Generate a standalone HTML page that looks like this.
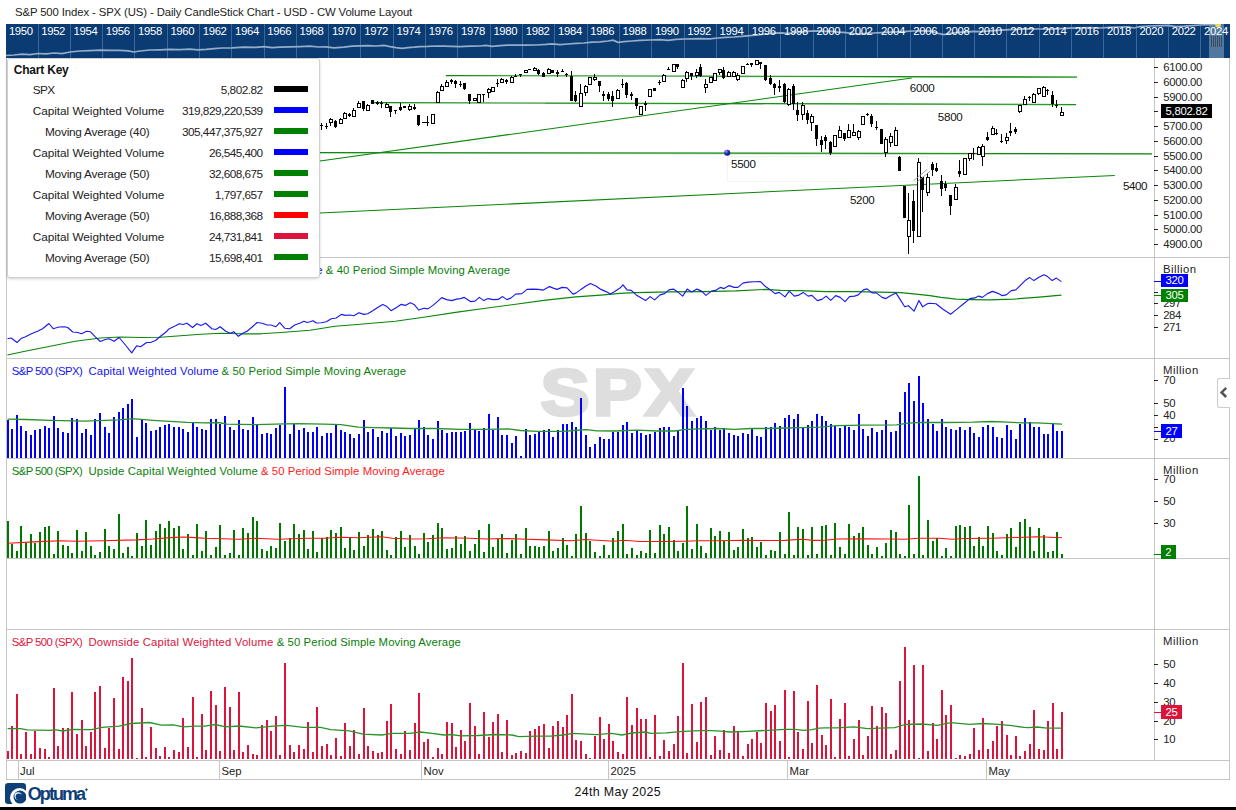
<!DOCTYPE html>
<html><head><meta charset="utf-8"><title>S&amp;P 500 Index - CW Volume Layout</title>
<style>
html,body{margin:0;padding:0;background:#fff;}
body{width:1236px;height:810px;position:relative;overflow:hidden;font-family:"Liberation Sans",sans-serif;}
.t{position:absolute;white-space:nowrap;line-height:16px;height:16px;font-family:"Liberation Sans",sans-serif;}
.box{position:absolute;color:#fff;text-align:center;line-height:14px;font-family:"Liberation Sans",sans-serif;white-space:nowrap;}
#legend{position:absolute;left:7px;top:58px;width:311px;height:218px;background:#fff;border:1px solid #d0d0d0;border-radius:3px;box-shadow:0 1px 3px rgba(0,0,0,0.18);font-size:11.8px;color:#222;}
#legend .lk{position:absolute;left:5.7px;top:3px;font-weight:bold;font-size:12px;line-height:16px;color:#111}
#legend .lr{position:absolute;left:0;width:311px;height:16px;line-height:16px;}
#legend .ll{position:absolute;white-space:nowrap}
#legend .lv{position:absolute;right:56.4px;white-space:nowrap}
#legend .ls{position:absolute;left:266px;top:4px;width:34px;height:6px}
</style></head><body>
<svg width="1236" height="810" viewBox="0 0 1236 810" style="position:absolute;left:0;top:0" shape-rendering="auto"><rect x="6" y="24" width="1224" height="34" fill="#0a3b73"/>
<rect x="1209" y="24" width="15" height="34" fill="#51799f"/>
<rect x="38" y="24" width="1" height="34" fill="#3f6795"/>
<rect x="70" y="24" width="1" height="34" fill="#3f6795"/>
<rect x="102" y="24" width="1" height="34" fill="#3f6795"/>
<rect x="134" y="24" width="1" height="34" fill="#3f6795"/>
<rect x="167" y="24" width="1" height="34" fill="#3f6795"/>
<rect x="199" y="24" width="1" height="34" fill="#3f6795"/>
<rect x="231" y="24" width="1" height="34" fill="#3f6795"/>
<rect x="264" y="24" width="1" height="34" fill="#3f6795"/>
<rect x="296" y="24" width="1" height="34" fill="#3f6795"/>
<rect x="328" y="24" width="1" height="34" fill="#3f6795"/>
<rect x="360" y="24" width="1" height="34" fill="#3f6795"/>
<rect x="393" y="24" width="1" height="34" fill="#3f6795"/>
<rect x="425" y="24" width="1" height="34" fill="#3f6795"/>
<rect x="457" y="24" width="1" height="34" fill="#3f6795"/>
<rect x="490" y="24" width="1" height="34" fill="#3f6795"/>
<rect x="522" y="24" width="1" height="34" fill="#3f6795"/>
<rect x="554" y="24" width="1" height="34" fill="#3f6795"/>
<rect x="587" y="24" width="1" height="34" fill="#3f6795"/>
<rect x="619" y="24" width="1" height="34" fill="#3f6795"/>
<rect x="651" y="24" width="1" height="34" fill="#3f6795"/>
<rect x="684" y="24" width="1" height="34" fill="#3f6795"/>
<rect x="716" y="24" width="1" height="34" fill="#3f6795"/>
<rect x="748" y="24" width="1" height="34" fill="#3f6795"/>
<rect x="780" y="24" width="1" height="34" fill="#3f6795"/>
<rect x="813" y="24" width="1" height="34" fill="#3f6795"/>
<rect x="845" y="24" width="1" height="34" fill="#3f6795"/>
<rect x="877" y="24" width="1" height="34" fill="#3f6795"/>
<rect x="910" y="24" width="1" height="34" fill="#3f6795"/>
<rect x="942" y="24" width="1" height="34" fill="#3f6795"/>
<rect x="974" y="24" width="1" height="34" fill="#3f6795"/>
<rect x="1006" y="24" width="1" height="34" fill="#3f6795"/>
<rect x="1039" y="24" width="1" height="34" fill="#3f6795"/>
<rect x="1071" y="24" width="1" height="34" fill="#3f6795"/>
<rect x="1103" y="24" width="1" height="34" fill="#3f6795"/>
<rect x="1136" y="24" width="1" height="34" fill="#3f6795"/>
<rect x="1168" y="24" width="1" height="34" fill="#3f6795"/>
<rect x="1200" y="24" width="1" height="34" fill="#3f6795"/>
<polyline fill="none" stroke="#95adc9" stroke-width="1.7" points="6,55.5 14,55 22,54.2 30,54.6 38,53.5 46,53.8 54,53 62,53.6 70,52 80,51 90,50.6 100,50.2 110,50.4 120,50.3 128,50.8 134,52 140,51 150,50 160,49.8 170,49.4 180,49.6 190,49.2 198,49.8 206,49.4 214,48.6 222,48 232,47.8 244,47.2 256,47.4 264,46.6 272,47.6 280,47.2 290,46.8 300,46.6 310,46.2 318,47 326,46.8 334,47.8 344,47.2 352,46.2 360,45.8 368,45.6 376,46 384,45.4 390,46.6 396,47.6 402,48.4 408,47.6 414,47.2 420,46.6 428,46.4 436,46 444,46.2 452,46.4 460,46.6 470,46.2 480,46 486,45.4 492,46.4 500,45.6 508,45.2 516,45 526,45.2 536,45 546,44.4 552,43.8 560,44.6 568,44 576,43.4 584,43 592,42.2 600,41.8 608,41 613,40.2 618,42.4 624,41.6 632,41 640,40.4 650,40 660,39.6 668,40.4 676,39.4 684,39 692,38.8 700,38.6 710,38.8 718,38 726,37.4 734,37 742,36.4 750,35.6 758,35 766,34 774,33.2 782,32.8 788,33.6 794,32.4 802,31.8 810,31.2 818,30.8 824,31.4 830,31.2 838,32.2 846,32.6 854,33.6 860,34.2 866,33.4 874,33 882,32.6 890,32.2 898,31.8 906,31.4 914,31 922,30.8 930,31.2 938,33.4 944,34.6 950,33.4 958,32.4 966,31.8 974,31.4 982,31.6 990,30.8 1000,30.2 1010,29.6 1020,29.2 1030,28.8 1040,29 1050,29.2 1060,28.6 1070,28.2 1080,27.8 1090,27.6 1100,28 1110,27.4 1120,27 1128,26.8 1134,28 1140,26.6 1150,26 1160,25.6 1168,25.4 1176,26.6 1184,26.2 1192,25.6 1200,25 1208,24.6 1218,24.2"/>
<rect x="1211" y="36" width="1" height="11" fill="#3c4a5c"/>
<rect x="1213" y="36" width="1" height="11" fill="#3c4a5c"/>
<rect x="1215" y="36" width="1" height="11" fill="#3c4a5c"/>
<rect x="1217" y="36" width="1" height="11" fill="#3c4a5c"/>
<rect x="1219" y="36" width="1" height="11" fill="#3c4a5c"/>
<rect x="1221" y="36" width="1" height="11" fill="#3c4a5c"/>
<circle cx="1218" cy="24.5" r="3" fill="#e0dc5a"/>
<rect x="1200" y="14" width="36" height="10" fill="#fff"/>
<rect x="6" y="58" width="1" height="721" fill="#c6c6c6"/>
<rect x="1229" y="58" width="1" height="721" fill="#c6c6c6"/>
<rect x="1154" y="58" width="1" height="702" fill="#c6c6c6"/>
<rect x="6" y="257" width="1224" height="1" fill="#c6c6c6"/>
<rect x="6" y="358" width="1224" height="1" fill="#c6c6c6"/>
<rect x="6" y="458" width="1224" height="1" fill="#c6c6c6"/>
<rect x="6" y="558" width="1224" height="1" fill="#c6c6c6"/>
<rect x="6" y="629" width="1224" height="1" fill="#c6c6c6"/>
<rect x="6" y="760" width="1224" height="1" fill="#c6c6c6"/>
<rect x="6" y="779" width="1224" height="1" fill="#c6c6c6"/>
<rect x="18" y="760" width="1" height="19" fill="#c6c6c6"/>
<rect x="219" y="760" width="1" height="19" fill="#c6c6c6"/>
<rect x="421" y="760" width="1" height="19" fill="#c6c6c6"/>
<rect x="608" y="760" width="1" height="19" fill="#c6c6c6"/>
<rect x="787" y="760" width="1" height="19" fill="#c6c6c6"/>
<rect x="986" y="760" width="1" height="19" fill="#c6c6c6"/>
<rect x="0" y="807" width="1236" height="3" fill="#000"/>
<g transform="translate(619.1 0) scale(1.13 1) translate(-619.1 0)"><text x="619.1" y="415.2" text-anchor="middle" font-family="Liberation Sans, sans-serif" font-weight="700" font-size="64.5" letter-spacing="3.2" fill="#dedede" stroke="#dedede" stroke-width="3.5" stroke-linejoin="miter">SPX</text></g>
<line x1="445.8" y1="75.6" x2="1077" y2="77.0" stroke="#0a860a" stroke-width="1.05" opacity="1"/>
<line x1="690" y1="76.3" x2="1077" y2="77.5" stroke="#2e9e2e" stroke-width="1.2" opacity="0.6"/>
<line x1="370.8" y1="102.6" x2="1076" y2="104.4" stroke="#0a860a" stroke-width="1.05" opacity="1"/>
<line x1="545" y1="103.3" x2="1076" y2="104.9" stroke="#2e9e2e" stroke-width="1.2" opacity="0.6"/>
<line x1="320" y1="161" x2="911.7" y2="78.1" stroke="#0a860a" stroke-width="1.05" opacity="1"/>
<line x1="320" y1="152.4" x2="1152" y2="153.8" stroke="#0a860a" stroke-width="1.05" opacity="1"/>
<line x1="320" y1="153.2" x2="1152" y2="154.4" stroke="#2e9e2e" stroke-width="1.0" opacity="0.5"/>
<line x1="320" y1="213" x2="1114.8" y2="175.4" stroke="#0a860a" stroke-width="1.05" opacity="1"/>
<rect x="727.5" y="156.5" width="200" height="25" fill="none" stroke="#f3f3f3" stroke-width="1"/>
<rect x="321" y="123" width="1" height="7" fill="#000"/>
<rect x="320" y="125" width="3" height="1" fill="#000"/>
<rect x="326" y="123" width="1" height="6" fill="#000"/>
<rect x="325" y="126" width="3" height="1" fill="#000"/>
<rect x="330" y="118" width="1" height="8" fill="#000"/>
<rect x="329.5" y="119.5" width="3" height="3" fill="#fff" stroke="#000" stroke-width="1"/>
<rect x="335" y="120" width="1" height="8" fill="#000"/>
<rect x="334" y="121" width="3" height="6" fill="#000"/>
<rect x="340" y="118" width="1" height="5" fill="#000"/>
<rect x="339.5" y="119.5" width="3" height="4" fill="#fff" stroke="#000" stroke-width="1"/>
<rect x="344" y="112" width="1" height="6" fill="#000"/>
<rect x="343.5" y="113.5" width="3" height="5" fill="#fff" stroke="#000" stroke-width="1"/>
<rect x="349" y="113" width="1" height="4" fill="#000"/>
<rect x="348" y="114" width="3" height="2" fill="#000"/>
<rect x="353" y="108" width="1" height="8" fill="#000"/>
<rect x="352.5" y="110.5" width="3" height="6" fill="#fff" stroke="#000" stroke-width="1"/>
<rect x="358" y="101" width="1" height="6" fill="#000"/>
<rect x="357.5" y="103.5" width="3" height="4" fill="#fff" stroke="#000" stroke-width="1"/>
<rect x="363" y="101" width="1" height="10" fill="#000"/>
<rect x="362" y="101" width="3" height="8" fill="#000"/>
<rect x="367" y="104" width="1" height="6" fill="#000"/>
<rect x="366.5" y="105.5" width="3" height="5" fill="#fff" stroke="#000" stroke-width="1"/>
<rect x="372" y="100" width="1" height="4" fill="#000"/>
<rect x="371" y="100" width="3" height="4" fill="#000"/>
<rect x="377" y="101" width="1" height="4" fill="#000"/>
<rect x="376" y="102" width="3" height="2" fill="#000"/>
<rect x="381" y="101" width="1" height="7" fill="#000"/>
<rect x="380" y="103" width="3" height="1" fill="#000"/>
<rect x="386" y="103" width="1" height="4" fill="#000"/>
<rect x="385.5" y="104.5" width="3" height="3" fill="#fff" stroke="#000" stroke-width="1"/>
<rect x="390" y="106" width="1" height="11" fill="#000"/>
<rect x="389" y="106" width="3" height="6" fill="#000"/>
<rect x="395" y="110" width="1" height="4" fill="#000"/>
<rect x="394" y="110" width="3" height="1" fill="#000"/>
<rect x="400" y="103" width="1" height="8" fill="#000"/>
<rect x="399" y="107" width="3" height="3" fill="#000"/>
<rect x="404" y="106" width="1" height="2" fill="#000"/>
<rect x="403" y="106" width="3" height="2" fill="#000"/>
<rect x="409" y="104" width="1" height="7" fill="#000"/>
<rect x="408.5" y="106.5" width="3" height="3" fill="#fff" stroke="#000" stroke-width="1"/>
<rect x="414" y="104" width="1" height="6" fill="#000"/>
<rect x="413" y="107" width="3" height="2" fill="#000"/>
<rect x="418" y="115" width="1" height="11" fill="#000"/>
<rect x="417" y="115" width="3" height="10" fill="#000"/>
<rect x="422" y="122" width="3" height="1" fill="#000"/>
<rect x="427" y="116" width="1" height="10" fill="#000"/>
<rect x="424" y="122" width="5" height="1" fill="#000"/>
<rect x="432" y="114" width="1" height="9" fill="#000"/>
<rect x="431.5" y="114.5" width="3" height="9" fill="#fff" stroke="#000" stroke-width="1"/>
<rect x="437" y="91" width="1" height="11" fill="#000"/>
<rect x="436.5" y="92.5" width="3" height="10" fill="#fff" stroke="#000" stroke-width="1"/>
<rect x="441" y="84" width="1" height="6" fill="#000"/>
<rect x="440.5" y="86.5" width="3" height="4" fill="#fff" stroke="#000" stroke-width="1"/>
<rect x="446" y="80" width="1" height="6" fill="#000"/>
<rect x="445.5" y="82.5" width="3" height="4" fill="#fff" stroke="#000" stroke-width="1"/>
<rect x="451" y="79" width="1" height="5" fill="#000"/>
<rect x="450" y="80" width="3" height="2" fill="#000"/>
<rect x="455" y="80" width="1" height="8" fill="#000"/>
<rect x="454" y="81" width="3" height="3" fill="#000"/>
<rect x="460" y="81" width="1" height="6" fill="#000"/>
<rect x="459" y="84" width="3" height="1" fill="#000"/>
<rect x="464" y="83" width="1" height="7" fill="#000"/>
<rect x="463" y="83" width="3" height="6" fill="#000"/>
<rect x="469" y="94" width="1" height="10" fill="#000"/>
<rect x="468" y="94" width="3" height="7" fill="#000"/>
<rect x="474" y="98" width="1" height="3" fill="#000"/>
<rect x="473.5" y="98.5" width="3" height="2" fill="#fff" stroke="#000" stroke-width="1"/>
<rect x="478" y="94" width="1" height="8" fill="#000"/>
<rect x="477.5" y="94.5" width="3" height="8" fill="#fff" stroke="#000" stroke-width="1"/>
<rect x="483" y="94" width="1" height="8" fill="#000"/>
<rect x="482" y="94" width="3" height="1" fill="#000"/>
<rect x="488" y="88" width="1" height="10" fill="#000"/>
<rect x="487.5" y="89.5" width="3" height="3" fill="#fff" stroke="#000" stroke-width="1"/>
<rect x="492" y="87" width="1" height="4" fill="#000"/>
<rect x="491.5" y="87.5" width="3" height="4" fill="#fff" stroke="#000" stroke-width="1"/>
<rect x="497" y="79" width="1" height="8" fill="#000"/>
<rect x="496" y="83" width="3" height="1" fill="#000"/>
<rect x="501" y="78" width="1" height="4" fill="#000"/>
<rect x="500.5" y="79.5" width="3" height="3" fill="#fff" stroke="#000" stroke-width="1"/>
<rect x="506" y="79" width="1" height="5" fill="#000"/>
<rect x="505" y="80" width="3" height="2" fill="#000"/>
<rect x="511" y="76" width="1" height="6" fill="#000"/>
<rect x="510.5" y="77.5" width="3" height="5" fill="#fff" stroke="#000" stroke-width="1"/>
<rect x="515" y="74" width="1" height="3" fill="#000"/>
<rect x="514" y="76" width="3" height="1" fill="#000"/>
<rect x="520" y="74" width="1" height="3" fill="#000"/>
<rect x="519" y="74" width="3" height="1" fill="#000"/>
<rect x="525" y="70" width="1" height="2" fill="#000"/>
<rect x="524.5" y="70.5" width="3" height="2" fill="#fff" stroke="#000" stroke-width="1"/>
<rect x="529" y="69" width="1" height="1" fill="#000"/>
<rect x="528" y="69" width="3" height="1" fill="#000"/>
<rect x="534" y="67" width="1" height="3" fill="#000"/>
<rect x="533.5" y="68.5" width="3" height="2" fill="#fff" stroke="#000" stroke-width="1"/>
<rect x="538" y="69" width="1" height="6" fill="#000"/>
<rect x="537" y="70" width="3" height="4" fill="#000"/>
<rect x="543" y="72" width="1" height="5" fill="#000"/>
<rect x="542" y="73" width="3" height="4" fill="#000"/>
<rect x="548" y="68" width="1" height="5" fill="#000"/>
<rect x="547.5" y="69.5" width="3" height="4" fill="#fff" stroke="#000" stroke-width="1"/>
<rect x="552" y="70" width="1" height="3" fill="#000"/>
<rect x="551" y="70" width="3" height="3" fill="#000"/>
<rect x="557" y="70" width="1" height="7" fill="#000"/>
<rect x="556" y="72" width="3" height="2" fill="#000"/>
<rect x="562" y="69" width="1" height="3" fill="#000"/>
<rect x="561" y="71" width="3" height="1" fill="#000"/>
<rect x="566" y="73" width="1" height="4" fill="#000"/>
<rect x="565" y="74" width="3" height="1" fill="#000"/>
<rect x="571" y="71" width="1" height="30" fill="#000"/>
<rect x="570" y="76" width="3" height="25" fill="#000"/>
<rect x="575" y="91" width="1" height="11" fill="#000"/>
<rect x="574" y="95" width="3" height="6" fill="#000"/>
<rect x="580" y="84" width="1" height="22" fill="#000"/>
<rect x="579.5" y="93.5" width="3" height="13" fill="#fff" stroke="#000" stroke-width="1"/>
<rect x="585" y="85" width="1" height="11" fill="#000"/>
<rect x="584.5" y="86.5" width="3" height="6" fill="#fff" stroke="#000" stroke-width="1"/>
<rect x="589" y="77" width="1" height="7" fill="#000"/>
<rect x="588.5" y="77.5" width="3" height="7" fill="#fff" stroke="#000" stroke-width="1"/>
<rect x="594" y="74" width="1" height="7" fill="#000"/>
<rect x="593.5" y="77.5" width="3" height="2" fill="#fff" stroke="#000" stroke-width="1"/>
<rect x="599" y="81" width="1" height="11" fill="#000"/>
<rect x="598" y="81" width="3" height="5" fill="#000"/>
<rect x="603" y="91" width="1" height="10" fill="#000"/>
<rect x="602" y="94" width="3" height="2" fill="#000"/>
<rect x="608" y="92" width="1" height="9" fill="#000"/>
<rect x="607" y="94" width="3" height="5" fill="#000"/>
<rect x="612" y="91" width="1" height="16" fill="#000"/>
<rect x="611" y="96" width="3" height="5" fill="#000"/>
<rect x="617" y="89" width="1" height="9" fill="#000"/>
<rect x="616.5" y="90.5" width="3" height="8" fill="#fff" stroke="#000" stroke-width="1"/>
<rect x="622" y="79" width="1" height="9" fill="#000"/>
<rect x="621" y="84" width="3" height="1" fill="#000"/>
<rect x="626" y="82" width="1" height="16" fill="#000"/>
<rect x="625" y="83" width="3" height="12" fill="#000"/>
<rect x="631" y="92" width="1" height="8" fill="#000"/>
<rect x="630" y="94" width="3" height="2" fill="#000"/>
<rect x="636" y="98" width="1" height="11" fill="#000"/>
<rect x="635" y="98" width="3" height="8" fill="#000"/>
<rect x="640" y="106" width="1" height="8" fill="#000"/>
<rect x="639.5" y="106.5" width="3" height="8" fill="#fff" stroke="#000" stroke-width="1"/>
<rect x="645" y="101" width="1" height="10" fill="#000"/>
<rect x="644" y="103" width="3" height="2" fill="#000"/>
<rect x="649" y="89" width="1" height="7" fill="#000"/>
<rect x="648.5" y="89.5" width="3" height="7" fill="#fff" stroke="#000" stroke-width="1"/>
<rect x="654" y="88" width="1" height="3" fill="#000"/>
<rect x="653" y="88" width="3" height="3" fill="#000"/>
<rect x="659" y="80" width="1" height="5" fill="#000"/>
<rect x="658" y="82" width="3" height="1" fill="#000"/>
<rect x="663" y="74" width="1" height="7" fill="#000"/>
<rect x="662.5" y="75.5" width="3" height="6" fill="#fff" stroke="#000" stroke-width="1"/>
<rect x="668" y="67" width="1" height="3" fill="#000"/>
<rect x="667" y="69" width="3" height="1" fill="#000"/>
<rect x="673" y="64" width="1" height="7" fill="#000"/>
<rect x="672.5" y="64.5" width="3" height="7" fill="#fff" stroke="#000" stroke-width="1"/>
<rect x="677" y="64" width="1" height="5" fill="#000"/>
<rect x="676" y="64" width="3" height="3" fill="#000"/>
<rect x="682" y="79" width="1" height="8" fill="#000"/>
<rect x="681.5" y="80.5" width="3" height="7" fill="#fff" stroke="#000" stroke-width="1"/>
<rect x="686" y="71" width="1" height="11" fill="#000"/>
<rect x="685.5" y="72.5" width="3" height="6" fill="#fff" stroke="#000" stroke-width="1"/>
<rect x="691" y="73" width="1" height="7" fill="#000"/>
<rect x="690" y="73" width="3" height="3" fill="#000"/>
<rect x="696" y="69" width="1" height="9" fill="#000"/>
<rect x="695.5" y="72.5" width="3" height="3" fill="#fff" stroke="#000" stroke-width="1"/>
<rect x="700" y="64" width="1" height="13" fill="#000"/>
<rect x="699" y="67" width="3" height="9" fill="#000"/>
<rect x="705" y="79" width="1" height="14" fill="#000"/>
<rect x="704.5" y="84.5" width="3" height="3" fill="#fff" stroke="#000" stroke-width="1"/>
<rect x="710" y="77" width="1" height="5" fill="#000"/>
<rect x="709.5" y="77.5" width="3" height="5" fill="#fff" stroke="#000" stroke-width="1"/>
<rect x="714" y="73" width="1" height="7" fill="#000"/>
<rect x="713.5" y="73.5" width="3" height="7" fill="#fff" stroke="#000" stroke-width="1"/>
<rect x="719" y="69" width="1" height="6" fill="#000"/>
<rect x="718.5" y="69.5" width="3" height="3" fill="#fff" stroke="#000" stroke-width="1"/>
<rect x="723" y="67" width="1" height="12" fill="#000"/>
<rect x="722" y="70" width="3" height="8" fill="#000"/>
<rect x="728" y="71" width="1" height="5" fill="#000"/>
<rect x="727.5" y="72.5" width="3" height="4" fill="#fff" stroke="#000" stroke-width="1"/>
<rect x="733" y="71" width="1" height="5" fill="#000"/>
<rect x="732.5" y="72.5" width="3" height="4" fill="#fff" stroke="#000" stroke-width="1"/>
<rect x="737" y="73" width="1" height="8" fill="#000"/>
<rect x="736.5" y="75.5" width="3" height="4" fill="#fff" stroke="#000" stroke-width="1"/>
<rect x="742" y="66" width="1" height="7" fill="#000"/>
<rect x="741.5" y="66.5" width="3" height="7" fill="#fff" stroke="#000" stroke-width="1"/>
<rect x="747" y="63" width="1" height="2" fill="#000"/>
<rect x="746" y="64" width="3" height="1" fill="#000"/>
<rect x="751" y="63" width="1" height="4" fill="#000"/>
<rect x="750" y="63" width="3" height="2" fill="#000"/>
<rect x="756" y="60" width="1" height="4" fill="#000"/>
<rect x="755.5" y="60.5" width="3" height="4" fill="#fff" stroke="#000" stroke-width="1"/>
<rect x="760" y="62" width="1" height="7" fill="#000"/>
<rect x="759" y="62" width="3" height="2" fill="#000"/>
<rect x="765" y="65" width="1" height="16" fill="#000"/>
<rect x="764" y="65" width="3" height="15" fill="#000"/>
<rect x="770" y="75" width="1" height="10" fill="#000"/>
<rect x="769" y="78" width="3" height="6" fill="#000"/>
<rect x="774" y="83" width="1" height="12" fill="#000"/>
<rect x="773" y="84" width="3" height="4" fill="#000"/>
<rect x="779" y="80" width="1" height="12" fill="#000"/>
<rect x="778" y="86" width="3" height="2" fill="#000"/>
<rect x="784" y="83" width="1" height="20" fill="#000"/>
<rect x="783" y="84" width="3" height="18" fill="#000"/>
<rect x="788" y="88" width="1" height="18" fill="#000"/>
<rect x="787.5" y="89.5" width="3" height="15" fill="#fff" stroke="#000" stroke-width="1"/>
<rect x="793" y="84" width="1" height="26" fill="#000"/>
<rect x="792" y="86" width="3" height="18" fill="#000"/>
<rect x="797" y="102" width="1" height="19" fill="#000"/>
<rect x="796" y="110" width="3" height="5" fill="#000"/>
<rect x="802" y="102" width="1" height="18" fill="#000"/>
<rect x="801.5" y="105.5" width="3" height="9" fill="#fff" stroke="#000" stroke-width="1"/>
<rect x="807" y="110" width="1" height="14" fill="#000"/>
<rect x="806" y="113" width="3" height="7" fill="#000"/>
<rect x="811" y="114" width="1" height="17" fill="#000"/>
<rect x="810.5" y="116.5" width="3" height="6" fill="#fff" stroke="#000" stroke-width="1"/>
<rect x="816" y="125" width="1" height="21" fill="#000"/>
<rect x="815" y="125" width="3" height="14" fill="#000"/>
<rect x="821" y="136" width="1" height="16" fill="#000"/>
<rect x="820" y="140" width="3" height="5" fill="#000"/>
<rect x="825" y="135" width="1" height="14" fill="#000"/>
<rect x="824" y="137" width="3" height="4" fill="#000"/>
<rect x="830" y="141" width="1" height="14" fill="#000"/>
<rect x="829" y="142" width="3" height="11" fill="#000"/>
<rect x="834" y="135" width="1" height="11" fill="#000"/>
<rect x="833.5" y="135.5" width="3" height="11" fill="#fff" stroke="#000" stroke-width="1"/>
<rect x="839" y="126" width="1" height="11" fill="#000"/>
<rect x="838.5" y="130.5" width="3" height="7" fill="#fff" stroke="#000" stroke-width="1"/>
<rect x="844" y="133" width="1" height="8" fill="#000"/>
<rect x="843" y="133" width="3" height="6" fill="#000"/>
<rect x="848" y="124" width="1" height="14" fill="#000"/>
<rect x="847.5" y="130.5" width="3" height="7" fill="#fff" stroke="#000" stroke-width="1"/>
<rect x="853" y="124" width="1" height="12" fill="#000"/>
<rect x="852.5" y="132.5" width="3" height="3" fill="#fff" stroke="#000" stroke-width="1"/>
<rect x="858" y="130" width="1" height="10" fill="#000"/>
<rect x="857.5" y="131.5" width="3" height="6" fill="#fff" stroke="#000" stroke-width="1"/>
<rect x="862" y="116" width="1" height="8" fill="#000"/>
<rect x="861.5" y="116.5" width="3" height="8" fill="#fff" stroke="#000" stroke-width="1"/>
<rect x="867" y="113" width="1" height="3" fill="#000"/>
<rect x="866" y="114" width="3" height="1" fill="#000"/>
<rect x="871" y="114" width="1" height="13" fill="#000"/>
<rect x="870" y="116" width="3" height="8" fill="#000"/>
<rect x="876" y="121" width="1" height="9" fill="#000"/>
<rect x="875" y="127" width="3" height="1" fill="#000"/>
<rect x="881" y="129" width="1" height="15" fill="#000"/>
<rect x="880" y="129" width="3" height="15" fill="#000"/>
<rect x="885" y="137" width="1" height="20" fill="#000"/>
<rect x="884.5" y="139.5" width="3" height="13" fill="#fff" stroke="#000" stroke-width="1"/>
<rect x="890" y="133" width="1" height="14" fill="#000"/>
<rect x="889.5" y="136.5" width="3" height="6" fill="#fff" stroke="#000" stroke-width="1"/>
<rect x="895" y="127" width="1" height="18" fill="#000"/>
<rect x="894.5" y="130.5" width="3" height="15" fill="#fff" stroke="#000" stroke-width="1"/>
<rect x="899" y="156" width="1" height="15" fill="#000"/>
<rect x="898" y="157" width="3" height="14" fill="#000"/>
<rect x="904" y="186" width="1" height="32" fill="#000"/>
<rect x="903" y="186" width="3" height="32" fill="#000"/>
<rect x="908" y="193" width="1" height="61" fill="#000"/>
<rect x="907.5" y="220.5" width="3" height="16" fill="#fff" stroke="#000" stroke-width="1"/>
<rect x="913" y="190" width="1" height="53" fill="#000"/>
<rect x="912" y="201" width="3" height="30" fill="#000"/>
<rect x="918" y="158" width="1" height="78" fill="#000"/>
<rect x="917.5" y="162.5" width="3" height="74" fill="#fff" stroke="#000" stroke-width="1"/>
<rect x="922" y="177" width="1" height="35" fill="#000"/>
<rect x="921" y="177" width="3" height="13" fill="#000"/>
<rect x="927" y="173" width="1" height="23" fill="#000"/>
<rect x="926.5" y="177.5" width="3" height="15" fill="#fff" stroke="#000" stroke-width="1"/>
<rect x="932" y="162" width="1" height="14" fill="#000"/>
<rect x="931" y="164" width="3" height="6" fill="#000"/>
<rect x="936" y="163" width="1" height="9" fill="#000"/>
<rect x="935" y="168" width="3" height="3" fill="#000"/>
<rect x="941" y="175" width="1" height="21" fill="#000"/>
<rect x="940" y="181" width="3" height="8" fill="#000"/>
<rect x="945" y="181" width="1" height="10" fill="#000"/>
<rect x="944" y="184" width="3" height="4" fill="#000"/>
<rect x="950" y="195" width="1" height="20" fill="#000"/>
<rect x="949" y="195" width="3" height="11" fill="#000"/>
<rect x="955" y="184" width="1" height="15" fill="#000"/>
<rect x="954.5" y="187.5" width="3" height="12" fill="#fff" stroke="#000" stroke-width="1"/>
<rect x="959" y="160" width="1" height="17" fill="#000"/>
<rect x="958" y="171" width="3" height="3" fill="#000"/>
<rect x="964" y="158" width="1" height="16" fill="#000"/>
<rect x="963.5" y="158.5" width="3" height="16" fill="#fff" stroke="#000" stroke-width="1"/>
<rect x="969" y="153" width="1" height="8" fill="#000"/>
<rect x="968.5" y="153.5" width="3" height="5" fill="#fff" stroke="#000" stroke-width="1"/>
<rect x="973" y="148" width="1" height="12" fill="#000"/>
<rect x="972" y="153" width="3" height="1" fill="#000"/>
<rect x="978" y="146" width="1" height="8" fill="#000"/>
<rect x="977.5" y="147.5" width="3" height="7" fill="#fff" stroke="#000" stroke-width="1"/>
<rect x="982" y="144" width="1" height="22" fill="#000"/>
<rect x="981.5" y="146.5" width="3" height="10" fill="#fff" stroke="#000" stroke-width="1"/>
<rect x="987" y="132" width="1" height="9" fill="#000"/>
<rect x="986" y="137" width="3" height="3" fill="#000"/>
<rect x="992" y="126" width="1" height="8" fill="#000"/>
<rect x="991.5" y="128.5" width="3" height="6" fill="#fff" stroke="#000" stroke-width="1"/>
<rect x="996" y="129" width="1" height="6" fill="#000"/>
<rect x="995" y="133" width="3" height="1" fill="#000"/>
<rect x="1001" y="134" width="1" height="9" fill="#000"/>
<rect x="1000" y="141" width="3" height="1" fill="#000"/>
<rect x="1006" y="133" width="1" height="11" fill="#000"/>
<rect x="1005.5" y="137.5" width="3" height="3" fill="#fff" stroke="#000" stroke-width="1"/>
<rect x="1010" y="123" width="1" height="13" fill="#000"/>
<rect x="1009" y="131" width="3" height="2" fill="#000"/>
<rect x="1015" y="127" width="1" height="7" fill="#000"/>
<rect x="1014" y="129" width="3" height="3" fill="#000"/>
<rect x="1019" y="105" width="1" height="8" fill="#000"/>
<rect x="1018.5" y="105.5" width="3" height="6" fill="#fff" stroke="#000" stroke-width="1"/>
<rect x="1024" y="96" width="1" height="8" fill="#000"/>
<rect x="1023.5" y="99.5" width="3" height="5" fill="#fff" stroke="#000" stroke-width="1"/>
<rect x="1029" y="96" width="1" height="5" fill="#000"/>
<rect x="1028" y="97" width="3" height="1" fill="#000"/>
<rect x="1033" y="93" width="1" height="9" fill="#000"/>
<rect x="1032.5" y="94.5" width="3" height="8" fill="#fff" stroke="#000" stroke-width="1"/>
<rect x="1038" y="88" width="1" height="7" fill="#000"/>
<rect x="1037.5" y="88.5" width="3" height="5" fill="#fff" stroke="#000" stroke-width="1"/>
<rect x="1043" y="86" width="1" height="10" fill="#000"/>
<rect x="1042.5" y="87.5" width="3" height="9" fill="#fff" stroke="#000" stroke-width="1"/>
<rect x="1047" y="89" width="1" height="6" fill="#000"/>
<rect x="1046" y="90" width="3" height="1" fill="#000"/>
<rect x="1052" y="91" width="1" height="16" fill="#000"/>
<rect x="1051" y="95" width="3" height="9" fill="#000"/>
<rect x="1056" y="100" width="1" height="8" fill="#000"/>
<rect x="1055" y="105" width="3" height="1" fill="#000"/>
<rect x="1061" y="107" width="1" height="9" fill="#000"/>
<rect x="1060.5" y="112.5" width="3" height="3" fill="#fff" stroke="#000" stroke-width="1"/>
<defs><radialGradient id="bd" cx="35%" cy="30%" r="70%"><stop offset="0" stop-color="#9aa6ff"/><stop offset="0.45" stop-color="#2a35c8"/><stop offset="1" stop-color="#0a1080"/></radialGradient></defs>
<circle cx="727.2" cy="152.7" r="3" fill="url(#bd)"/>
<line x1="913.6" y1="180.6" x2="927" y2="169.7" stroke="#9a9a9a" stroke-width="1" opacity="0.9"/>
<line x1="917.4" y1="181.6" x2="930.2" y2="171.2" stroke="#9a9a9a" stroke-width="1" opacity="0.9"/>
<polyline fill="none" stroke="#0a860a" stroke-width="1.15" stroke-linejoin="round" points="7.5,355 25,351.3 50.2,346.3 75.2,341.3 100.3,338 120.4,337 140.5,337.5 160.5,337.3 180.6,335.8 200.7,334.3 220.7,333.3 240.8,333.8 260.8,333.8 280.9,332.5 310,330.2 335.1,326.2 360.2,324.2 395.3,321.2 425.4,317 455.5,312.4 485.6,308.2 515.7,304.2 545.8,300.1 575.9,296.9 600.9,295.1 620,293.4 635,292.6 670.2,291.9 705.3,291.6 735.4,290.9 765.5,289.4 780.5,290.4 800.6,290.6 825.7,291.6 855.8,291.6 880.8,292.1 900.9,292.6 916,294.1 930,295.6 941,297.4 956.1,299.1 971.1,299.6 988.7,299.9 1013.8,299.1 1038.9,297.1 1061.4,295.1"/>
<polyline fill="none" stroke="#1a1aee" stroke-width="1.15" stroke-linejoin="round" points="7.5,338.8 11.3,338 17,342.5 21.3,338.3 25,337 31.4,333.8 37.6,331.2 42.6,328.7 48.9,323.5 53.2,328.7 58.9,327 64.7,326.7 67.7,327.5 72.7,332 77.8,332.5 81.5,333.8 86.5,331.2 90.3,331.7 95.3,336.8 100.3,341.5 105.3,339.5 109.1,338.8 114.1,341.3 119.1,337.5 125.4,345 131.7,352.8 136.7,345.8 140.5,346.8 146.7,342.5 150.5,342.5 155.5,340.5 160.5,336.3 165.5,332.5 169.3,328.7 175.6,325.7 179.3,323.7 183.1,324.5 186.9,323.2 192.6,327.5 196.9,323.7 200.7,325.5 205.7,323.2 211.9,328.7 215.7,329.5 220.2,326.7 225.7,331.2 230.2,333.3 233.8,331.7 238.3,336.3 243.3,333 247.1,331.2 252.1,327 257.1,322.5 262.1,323.2 267.1,325 270.9,325 275.9,326.7 279.7,322.7 284.7,328.2 289.7,328.7 294.7,325 299.7,323.2 304,321.2 307.2,322.5 310,321.7 313,320.7 316.3,323 321.3,322.7 326.3,321.7 331.3,318.7 336.3,318 341.4,314.4 345.1,315.4 350.1,315 353.9,315.7 358.9,312.7 363.9,314.4 367.7,313.7 372.7,310.7 377.7,307.4 382.7,304.4 386.5,306.2 391,310.7 396.5,307.4 401,304.4 405.3,305.4 410.3,302.7 414.1,304.4 418.6,310 424.1,308.2 427.9,308.9 432.9,305.4 437.9,301.1 441.7,297.6 446.7,299.6 451.7,300.6 456.7,299.1 460.5,298.6 464.3,297.4 470.5,301.6 475,301.1 479.3,297.4 483.8,300.6 488.1,298.6 493.1,299.6 498.1,299.4 502.6,296.6 506.9,299.6 510.7,298.1 515.7,294.1 521.9,293.6 527,289.4 533.2,289.1 538.2,289.4 543.3,290.1 549.5,286.6 553.3,288.1 557.1,289.4 562.1,287.4 567.1,287.9 572.9,294.1 575.9,293.1 580.9,289.4 585.9,286.1 590.4,283.6 595.9,286.1 600.9,289.4 606,291.6 610.5,294.1 614.7,291.6 620,288.1 623,284.8 627,289.9 631.3,290.4 636.3,294.9 641.3,298.1 645.6,300.6 650.1,296.6 654.6,299.9 660.1,294.9 664.6,293.6 668.9,289.9 673.4,289.1 677.7,291.9 682.7,296.1 687.2,289.1 691.5,291.9 697,289.1 701.5,291.1 706,295.4 711.5,291.1 715.3,290.4 720.3,287.4 724.1,288.6 729.1,285.6 734.1,287.4 737.9,287.4 742.9,283.1 747.9,282.1 754.2,281.8 760.5,281.6 765.5,286.6 770.5,289.9 775,293.6 779.3,292.4 785,296.9 789.3,291.1 794.3,296.1 798.1,295.4 803.1,292.4 808.1,296.1 811.9,295.4 817.4,300.6 821.9,299.4 826.2,296.1 830.7,300.4 835.7,295.6 840.2,297.4 845,301.6 849.5,296.6 854.5,296.1 858.3,294.9 863.3,289.9 867.1,288.9 872.1,292.9 876.3,292.9 882.1,297.4 885.9,298.6 890.9,295.6 895.9,292.9 900.4,299.9 904.7,306.7 908.4,305.7 914,311.2 919,300.6 922.7,306.9 927.3,303.7 929.8,303.2 936,303.7 942.3,308.7 950.6,314.2 956.1,309.9 963.6,303.7 969.9,298.6 974.9,297.9 978.7,296.1 982.4,297.4 987.5,293.6 992.5,291.4 997.5,293.1 1002,295.6 1006.3,294.9 1011.3,290.6 1015.8,289.9 1020.1,285.6 1025.1,280.6 1029.6,277.6 1033.9,280.6 1038.9,277.3 1043.9,274.8 1047.6,276.6 1052.2,280.6 1056.4,278.1 1061.4,281.6"/>
<rect x="7" y="420" width="2" height="38" fill="#0000ff"/>
<rect x="11" y="429" width="2" height="29" fill="#0000ff"/>
<rect x="16" y="415" width="2" height="43" fill="#0000ff"/>
<rect x="20" y="426" width="2" height="32" fill="#0000ff"/>
<rect x="25" y="431" width="2" height="27" fill="#0000ff"/>
<rect x="30" y="435" width="2" height="23" fill="#0000ff"/>
<rect x="34" y="430" width="2" height="28" fill="#0000ff"/>
<rect x="39" y="429" width="2" height="29" fill="#0000ff"/>
<rect x="44" y="426" width="2" height="32" fill="#0000ff"/>
<rect x="48" y="428" width="2" height="30" fill="#0000ff"/>
<rect x="53" y="416" width="2" height="42" fill="#0000ff"/>
<rect x="57" y="428" width="2" height="30" fill="#0000ff"/>
<rect x="62" y="432" width="2" height="26" fill="#0000ff"/>
<rect x="67" y="433" width="2" height="25" fill="#0000ff"/>
<rect x="71" y="418" width="2" height="40" fill="#0000ff"/>
<rect x="76" y="419" width="2" height="39" fill="#0000ff"/>
<rect x="81" y="433" width="2" height="25" fill="#0000ff"/>
<rect x="85" y="429" width="2" height="29" fill="#0000ff"/>
<rect x="90" y="435" width="2" height="23" fill="#0000ff"/>
<rect x="94" y="419" width="2" height="39" fill="#0000ff"/>
<rect x="99" y="413" width="2" height="45" fill="#0000ff"/>
<rect x="104" y="427" width="2" height="31" fill="#0000ff"/>
<rect x="108" y="433" width="2" height="25" fill="#0000ff"/>
<rect x="113" y="417" width="2" height="41" fill="#0000ff"/>
<rect x="118" y="412" width="2" height="46" fill="#0000ff"/>
<rect x="122" y="408" width="2" height="50" fill="#0000ff"/>
<rect x="127" y="404" width="2" height="54" fill="#0000ff"/>
<rect x="131" y="399" width="2" height="59" fill="#0000ff"/>
<rect x="136" y="437" width="2" height="21" fill="#0000ff"/>
<rect x="141" y="420" width="2" height="38" fill="#0000ff"/>
<rect x="145" y="423" width="2" height="35" fill="#0000ff"/>
<rect x="150" y="431" width="2" height="27" fill="#0000ff"/>
<rect x="155" y="430" width="2" height="28" fill="#0000ff"/>
<rect x="159" y="427" width="2" height="31" fill="#0000ff"/>
<rect x="164" y="425" width="2" height="33" fill="#0000ff"/>
<rect x="168" y="424" width="2" height="34" fill="#0000ff"/>
<rect x="173" y="427" width="2" height="31" fill="#0000ff"/>
<rect x="178" y="427" width="2" height="31" fill="#0000ff"/>
<rect x="182" y="429" width="2" height="29" fill="#0000ff"/>
<rect x="187" y="432" width="2" height="26" fill="#0000ff"/>
<rect x="192" y="423" width="2" height="35" fill="#0000ff"/>
<rect x="196" y="427" width="2" height="31" fill="#0000ff"/>
<rect x="201" y="429" width="2" height="29" fill="#0000ff"/>
<rect x="205" y="430" width="2" height="28" fill="#0000ff"/>
<rect x="210" y="419" width="2" height="39" fill="#0000ff"/>
<rect x="215" y="419" width="2" height="39" fill="#0000ff"/>
<rect x="219" y="424" width="2" height="34" fill="#0000ff"/>
<rect x="224" y="416" width="2" height="42" fill="#0000ff"/>
<rect x="229" y="427" width="2" height="31" fill="#0000ff"/>
<rect x="233" y="430" width="2" height="28" fill="#0000ff"/>
<rect x="238" y="420" width="2" height="38" fill="#0000ff"/>
<rect x="242" y="429" width="2" height="29" fill="#0000ff"/>
<rect x="247" y="430" width="2" height="28" fill="#0000ff"/>
<rect x="252" y="417" width="2" height="41" fill="#0000ff"/>
<rect x="256" y="425" width="2" height="33" fill="#0000ff"/>
<rect x="261" y="434" width="2" height="24" fill="#0000ff"/>
<rect x="266" y="433" width="2" height="25" fill="#0000ff"/>
<rect x="270" y="434" width="2" height="24" fill="#0000ff"/>
<rect x="275" y="428" width="2" height="30" fill="#0000ff"/>
<rect x="279" y="425" width="2" height="33" fill="#0000ff"/>
<rect x="284" y="387" width="2" height="71" fill="#0000ff"/>
<rect x="289" y="434" width="2" height="24" fill="#0000ff"/>
<rect x="293" y="424" width="2" height="34" fill="#0000ff"/>
<rect x="298" y="430" width="2" height="28" fill="#0000ff"/>
<rect x="303" y="428" width="2" height="30" fill="#0000ff"/>
<rect x="307" y="432" width="2" height="26" fill="#0000ff"/>
<rect x="312" y="432" width="2" height="26" fill="#0000ff"/>
<rect x="316" y="427" width="2" height="31" fill="#0000ff"/>
<rect x="321" y="436" width="2" height="22" fill="#0000ff"/>
<rect x="326" y="433" width="2" height="25" fill="#0000ff"/>
<rect x="330" y="433" width="2" height="25" fill="#0000ff"/>
<rect x="335" y="425" width="2" height="33" fill="#0000ff"/>
<rect x="340" y="430" width="2" height="28" fill="#0000ff"/>
<rect x="344" y="432" width="2" height="26" fill="#0000ff"/>
<rect x="349" y="434" width="2" height="24" fill="#0000ff"/>
<rect x="353" y="438" width="2" height="20" fill="#0000ff"/>
<rect x="358" y="434" width="2" height="24" fill="#0000ff"/>
<rect x="363" y="420" width="2" height="38" fill="#0000ff"/>
<rect x="367" y="432" width="2" height="26" fill="#0000ff"/>
<rect x="372" y="429" width="2" height="29" fill="#0000ff"/>
<rect x="377" y="437" width="2" height="21" fill="#0000ff"/>
<rect x="381" y="431" width="2" height="27" fill="#0000ff"/>
<rect x="386" y="433" width="2" height="25" fill="#0000ff"/>
<rect x="390" y="428" width="2" height="30" fill="#0000ff"/>
<rect x="395" y="436" width="2" height="22" fill="#0000ff"/>
<rect x="400" y="433" width="2" height="25" fill="#0000ff"/>
<rect x="404" y="436" width="2" height="22" fill="#0000ff"/>
<rect x="409" y="435" width="2" height="23" fill="#0000ff"/>
<rect x="414" y="429" width="2" height="29" fill="#0000ff"/>
<rect x="418" y="420" width="2" height="38" fill="#0000ff"/>
<rect x="423" y="427" width="2" height="31" fill="#0000ff"/>
<rect x="427" y="435" width="2" height="23" fill="#0000ff"/>
<rect x="432" y="439" width="2" height="19" fill="#0000ff"/>
<rect x="437" y="421" width="2" height="37" fill="#0000ff"/>
<rect x="441" y="430" width="2" height="28" fill="#0000ff"/>
<rect x="446" y="433" width="2" height="25" fill="#0000ff"/>
<rect x="451" y="432" width="2" height="26" fill="#0000ff"/>
<rect x="455" y="432" width="2" height="26" fill="#0000ff"/>
<rect x="460" y="432" width="2" height="26" fill="#0000ff"/>
<rect x="464" y="431" width="2" height="27" fill="#0000ff"/>
<rect x="469" y="423" width="2" height="35" fill="#0000ff"/>
<rect x="474" y="430" width="2" height="28" fill="#0000ff"/>
<rect x="478" y="431" width="2" height="27" fill="#0000ff"/>
<rect x="483" y="428" width="2" height="30" fill="#0000ff"/>
<rect x="488" y="414" width="2" height="44" fill="#0000ff"/>
<rect x="492" y="430" width="2" height="28" fill="#0000ff"/>
<rect x="497" y="417" width="2" height="41" fill="#0000ff"/>
<rect x="501" y="435" width="2" height="23" fill="#0000ff"/>
<rect x="506" y="435" width="2" height="23" fill="#0000ff"/>
<rect x="511" y="443" width="2" height="15" fill="#0000ff"/>
<rect x="515" y="436" width="2" height="22" fill="#0000ff"/>
<rect x="520" y="456" width="2" height="2" fill="#0000ff"/>
<rect x="525" y="429" width="2" height="29" fill="#0000ff"/>
<rect x="529" y="435" width="2" height="23" fill="#0000ff"/>
<rect x="534" y="434" width="2" height="24" fill="#0000ff"/>
<rect x="538" y="432" width="2" height="26" fill="#0000ff"/>
<rect x="543" y="430" width="2" height="28" fill="#0000ff"/>
<rect x="548" y="429" width="2" height="29" fill="#0000ff"/>
<rect x="552" y="437" width="2" height="21" fill="#0000ff"/>
<rect x="557" y="430" width="2" height="28" fill="#0000ff"/>
<rect x="562" y="424" width="2" height="34" fill="#0000ff"/>
<rect x="566" y="424" width="2" height="34" fill="#0000ff"/>
<rect x="571" y="422" width="2" height="36" fill="#0000ff"/>
<rect x="575" y="427" width="2" height="31" fill="#0000ff"/>
<rect x="580" y="398" width="2" height="60" fill="#0000ff"/>
<rect x="585" y="435" width="2" height="23" fill="#0000ff"/>
<rect x="589" y="447" width="2" height="11" fill="#0000ff"/>
<rect x="594" y="444" width="2" height="14" fill="#0000ff"/>
<rect x="599" y="437" width="2" height="21" fill="#0000ff"/>
<rect x="603" y="439" width="2" height="19" fill="#0000ff"/>
<rect x="608" y="439" width="2" height="19" fill="#0000ff"/>
<rect x="612" y="432" width="2" height="26" fill="#0000ff"/>
<rect x="617" y="432" width="2" height="26" fill="#0000ff"/>
<rect x="622" y="425" width="2" height="33" fill="#0000ff"/>
<rect x="626" y="422" width="2" height="36" fill="#0000ff"/>
<rect x="631" y="433" width="2" height="25" fill="#0000ff"/>
<rect x="636" y="430" width="2" height="28" fill="#0000ff"/>
<rect x="640" y="433" width="2" height="25" fill="#0000ff"/>
<rect x="645" y="435" width="2" height="23" fill="#0000ff"/>
<rect x="649" y="434" width="2" height="24" fill="#0000ff"/>
<rect x="654" y="432" width="2" height="26" fill="#0000ff"/>
<rect x="659" y="428" width="2" height="30" fill="#0000ff"/>
<rect x="663" y="427" width="2" height="31" fill="#0000ff"/>
<rect x="668" y="427" width="2" height="31" fill="#0000ff"/>
<rect x="673" y="436" width="2" height="22" fill="#0000ff"/>
<rect x="677" y="431" width="2" height="27" fill="#0000ff"/>
<rect x="682" y="388" width="2" height="70" fill="#0000ff"/>
<rect x="686" y="406" width="2" height="52" fill="#0000ff"/>
<rect x="691" y="421" width="2" height="37" fill="#0000ff"/>
<rect x="696" y="418" width="2" height="40" fill="#0000ff"/>
<rect x="700" y="416" width="2" height="42" fill="#0000ff"/>
<rect x="705" y="421" width="2" height="37" fill="#0000ff"/>
<rect x="710" y="430" width="2" height="28" fill="#0000ff"/>
<rect x="714" y="427" width="2" height="31" fill="#0000ff"/>
<rect x="719" y="430" width="2" height="28" fill="#0000ff"/>
<rect x="723" y="428" width="2" height="30" fill="#0000ff"/>
<rect x="728" y="433" width="2" height="25" fill="#0000ff"/>
<rect x="733" y="435" width="2" height="23" fill="#0000ff"/>
<rect x="737" y="436" width="2" height="22" fill="#0000ff"/>
<rect x="742" y="433" width="2" height="25" fill="#0000ff"/>
<rect x="747" y="434" width="2" height="24" fill="#0000ff"/>
<rect x="751" y="429" width="2" height="29" fill="#0000ff"/>
<rect x="756" y="436" width="2" height="22" fill="#0000ff"/>
<rect x="760" y="437" width="2" height="21" fill="#0000ff"/>
<rect x="765" y="427" width="2" height="31" fill="#0000ff"/>
<rect x="770" y="427" width="2" height="31" fill="#0000ff"/>
<rect x="774" y="423" width="2" height="35" fill="#0000ff"/>
<rect x="779" y="426" width="2" height="32" fill="#0000ff"/>
<rect x="784" y="418" width="2" height="40" fill="#0000ff"/>
<rect x="788" y="415" width="2" height="43" fill="#0000ff"/>
<rect x="793" y="419" width="2" height="39" fill="#0000ff"/>
<rect x="797" y="414" width="2" height="44" fill="#0000ff"/>
<rect x="802" y="428" width="2" height="30" fill="#0000ff"/>
<rect x="807" y="425" width="2" height="33" fill="#0000ff"/>
<rect x="811" y="421" width="2" height="37" fill="#0000ff"/>
<rect x="816" y="414" width="2" height="44" fill="#0000ff"/>
<rect x="821" y="416" width="2" height="42" fill="#0000ff"/>
<rect x="825" y="421" width="2" height="37" fill="#0000ff"/>
<rect x="830" y="424" width="2" height="34" fill="#0000ff"/>
<rect x="834" y="426" width="2" height="32" fill="#0000ff"/>
<rect x="839" y="428" width="2" height="30" fill="#0000ff"/>
<rect x="844" y="426" width="2" height="32" fill="#0000ff"/>
<rect x="848" y="427" width="2" height="31" fill="#0000ff"/>
<rect x="853" y="430" width="2" height="28" fill="#0000ff"/>
<rect x="858" y="414" width="2" height="44" fill="#0000ff"/>
<rect x="862" y="429" width="2" height="29" fill="#0000ff"/>
<rect x="867" y="436" width="2" height="22" fill="#0000ff"/>
<rect x="871" y="428" width="2" height="30" fill="#0000ff"/>
<rect x="876" y="432" width="2" height="26" fill="#0000ff"/>
<rect x="881" y="430" width="2" height="28" fill="#0000ff"/>
<rect x="885" y="420" width="2" height="38" fill="#0000ff"/>
<rect x="890" y="432" width="2" height="26" fill="#0000ff"/>
<rect x="895" y="431" width="2" height="27" fill="#0000ff"/>
<rect x="899" y="412" width="2" height="46" fill="#0000ff"/>
<rect x="904" y="392" width="2" height="66" fill="#0000ff"/>
<rect x="908" y="383" width="2" height="75" fill="#0000ff"/>
<rect x="913" y="401" width="2" height="57" fill="#0000ff"/>
<rect x="918" y="376" width="2" height="82" fill="#0000ff"/>
<rect x="922" y="403" width="2" height="55" fill="#0000ff"/>
<rect x="927" y="419" width="2" height="39" fill="#0000ff"/>
<rect x="932" y="424" width="2" height="34" fill="#0000ff"/>
<rect x="936" y="431" width="2" height="27" fill="#0000ff"/>
<rect x="941" y="419" width="2" height="39" fill="#0000ff"/>
<rect x="945" y="427" width="2" height="31" fill="#0000ff"/>
<rect x="950" y="429" width="2" height="29" fill="#0000ff"/>
<rect x="955" y="430" width="2" height="28" fill="#0000ff"/>
<rect x="959" y="427" width="2" height="31" fill="#0000ff"/>
<rect x="964" y="430" width="2" height="28" fill="#0000ff"/>
<rect x="969" y="427" width="2" height="31" fill="#0000ff"/>
<rect x="973" y="433" width="2" height="25" fill="#0000ff"/>
<rect x="978" y="437" width="2" height="21" fill="#0000ff"/>
<rect x="982" y="427" width="2" height="31" fill="#0000ff"/>
<rect x="987" y="425" width="2" height="33" fill="#0000ff"/>
<rect x="992" y="427" width="2" height="31" fill="#0000ff"/>
<rect x="996" y="437" width="2" height="21" fill="#0000ff"/>
<rect x="1001" y="438" width="2" height="20" fill="#0000ff"/>
<rect x="1006" y="425" width="2" height="33" fill="#0000ff"/>
<rect x="1010" y="430" width="2" height="28" fill="#0000ff"/>
<rect x="1015" y="439" width="2" height="19" fill="#0000ff"/>
<rect x="1019" y="424" width="2" height="34" fill="#0000ff"/>
<rect x="1024" y="418" width="2" height="40" fill="#0000ff"/>
<rect x="1029" y="422" width="2" height="36" fill="#0000ff"/>
<rect x="1033" y="427" width="2" height="31" fill="#0000ff"/>
<rect x="1038" y="427" width="2" height="31" fill="#0000ff"/>
<rect x="1043" y="434" width="2" height="24" fill="#0000ff"/>
<rect x="1047" y="434" width="2" height="24" fill="#0000ff"/>
<rect x="1052" y="423" width="2" height="35" fill="#0000ff"/>
<rect x="1056" y="431" width="2" height="27" fill="#0000ff"/>
<rect x="1061" y="431" width="2" height="27" fill="#0000ff"/>
<polyline fill="none" stroke="#2a922a" stroke-width="1.3" stroke-linejoin="round" points="7.6,419.1 25.5,419.5 51,420.3 85,421.2 119,419.8 132.5,418.6 153,420.3 187,422.4 205,422.9 218.6,422.5 227,424.2 256,424.6 284.9,423.9 298.4,423.7 324,424.2 341,424.6 358,427.1 375,427.6 392,428 410,428.5 435.5,428.5 461,429.3 486.5,429.3 508.5,428.8 520.4,430.5 537.4,431.4 563,431.4 580,430 586.7,429.7 597,430.8 615,431 637,430.2 657.5,431 674.5,431 686.4,429.3 700,428.8 717,428.5 734,429.3 751,428.5 768,428.5 785,428 802,427.6 820,427.1 837,425.6 862.5,425.2 896.5,424.9 908.3,423.2 922,422.4 947.4,422.5 973,422.2 991.6,421.5 1007,422.2 1024,422.9 1037,422.9 1062,424.2"/>
<rect x="7" y="521" width="2" height="37" fill="#007800"/>
<rect x="11" y="544" width="2" height="14" fill="#007800"/>
<rect x="16" y="551" width="2" height="7" fill="#007800"/>
<rect x="20" y="526" width="2" height="32" fill="#007800"/>
<rect x="25" y="543" width="2" height="15" fill="#007800"/>
<rect x="30" y="534" width="2" height="24" fill="#007800"/>
<rect x="34" y="543" width="2" height="15" fill="#007800"/>
<rect x="39" y="532" width="2" height="26" fill="#007800"/>
<rect x="44" y="527" width="2" height="31" fill="#007800"/>
<rect x="48" y="526" width="2" height="32" fill="#007800"/>
<rect x="53" y="554" width="2" height="4" fill="#007800"/>
<rect x="57" y="531" width="2" height="27" fill="#007800"/>
<rect x="62" y="545" width="2" height="13" fill="#007800"/>
<rect x="67" y="546" width="2" height="12" fill="#007800"/>
<rect x="71" y="553" width="2" height="5" fill="#007800"/>
<rect x="76" y="530" width="2" height="28" fill="#007800"/>
<rect x="81" y="551" width="2" height="7" fill="#007800"/>
<rect x="85" y="532" width="2" height="26" fill="#007800"/>
<rect x="90" y="546" width="2" height="12" fill="#007800"/>
<rect x="94" y="555" width="2" height="3" fill="#007800"/>
<rect x="99" y="552" width="2" height="6" fill="#007800"/>
<rect x="104" y="529" width="2" height="29" fill="#007800"/>
<rect x="108" y="546" width="2" height="12" fill="#007800"/>
<rect x="113" y="549" width="2" height="9" fill="#007800"/>
<rect x="118" y="514" width="2" height="44" fill="#007800"/>
<rect x="122" y="553" width="2" height="5" fill="#007800"/>
<rect x="127" y="547" width="2" height="11" fill="#007800"/>
<rect x="131" y="556" width="2" height="2" fill="#007800"/>
<rect x="136" y="533" width="2" height="25" fill="#007800"/>
<rect x="141" y="546" width="2" height="12" fill="#007800"/>
<rect x="145" y="520" width="2" height="38" fill="#007800"/>
<rect x="150" y="545" width="2" height="13" fill="#007800"/>
<rect x="155" y="531" width="2" height="27" fill="#007800"/>
<rect x="159" y="524" width="2" height="34" fill="#007800"/>
<rect x="164" y="528" width="2" height="30" fill="#007800"/>
<rect x="168" y="521" width="2" height="37" fill="#007800"/>
<rect x="173" y="528" width="2" height="30" fill="#007800"/>
<rect x="178" y="526" width="2" height="32" fill="#007800"/>
<rect x="182" y="549" width="2" height="9" fill="#007800"/>
<rect x="187" y="534" width="2" height="24" fill="#007800"/>
<rect x="192" y="555" width="2" height="3" fill="#007800"/>
<rect x="196" y="524" width="2" height="34" fill="#007800"/>
<rect x="201" y="551" width="2" height="7" fill="#007800"/>
<rect x="205" y="531" width="2" height="27" fill="#007800"/>
<rect x="210" y="555" width="2" height="3" fill="#007800"/>
<rect x="215" y="547" width="2" height="11" fill="#007800"/>
<rect x="219" y="525" width="2" height="33" fill="#007800"/>
<rect x="224" y="555" width="2" height="3" fill="#007800"/>
<rect x="229" y="553" width="2" height="5" fill="#007800"/>
<rect x="233" y="530" width="2" height="28" fill="#007800"/>
<rect x="238" y="555" width="2" height="3" fill="#007800"/>
<rect x="242" y="528" width="2" height="30" fill="#007800"/>
<rect x="247" y="533" width="2" height="25" fill="#007800"/>
<rect x="252" y="517" width="2" height="41" fill="#007800"/>
<rect x="256" y="521" width="2" height="37" fill="#007800"/>
<rect x="261" y="549" width="2" height="9" fill="#007800"/>
<rect x="266" y="551" width="2" height="7" fill="#007800"/>
<rect x="270" y="546" width="2" height="12" fill="#007800"/>
<rect x="275" y="548" width="2" height="10" fill="#007800"/>
<rect x="279" y="523" width="2" height="35" fill="#007800"/>
<rect x="284" y="541" width="2" height="17" fill="#007800"/>
<rect x="289" y="538" width="2" height="20" fill="#007800"/>
<rect x="293" y="524" width="2" height="34" fill="#007800"/>
<rect x="298" y="534" width="2" height="24" fill="#007800"/>
<rect x="303" y="530" width="2" height="28" fill="#007800"/>
<rect x="307" y="549" width="2" height="9" fill="#007800"/>
<rect x="312" y="531" width="2" height="27" fill="#007800"/>
<rect x="316" y="552" width="2" height="6" fill="#007800"/>
<rect x="321" y="538" width="2" height="20" fill="#007800"/>
<rect x="326" y="537" width="2" height="21" fill="#007800"/>
<rect x="330" y="530" width="2" height="28" fill="#007800"/>
<rect x="335" y="533" width="2" height="25" fill="#007800"/>
<rect x="340" y="527" width="2" height="31" fill="#007800"/>
<rect x="344" y="548" width="2" height="10" fill="#007800"/>
<rect x="349" y="537" width="2" height="21" fill="#007800"/>
<rect x="353" y="550" width="2" height="8" fill="#007800"/>
<rect x="358" y="532" width="2" height="26" fill="#007800"/>
<rect x="363" y="546" width="2" height="12" fill="#007800"/>
<rect x="367" y="535" width="2" height="23" fill="#007800"/>
<rect x="372" y="529" width="2" height="29" fill="#007800"/>
<rect x="377" y="535" width="2" height="23" fill="#007800"/>
<rect x="381" y="531" width="2" height="27" fill="#007800"/>
<rect x="386" y="550" width="2" height="8" fill="#007800"/>
<rect x="390" y="555" width="2" height="3" fill="#007800"/>
<rect x="395" y="537" width="2" height="21" fill="#007800"/>
<rect x="400" y="531" width="2" height="27" fill="#007800"/>
<rect x="404" y="547" width="2" height="11" fill="#007800"/>
<rect x="409" y="535" width="2" height="23" fill="#007800"/>
<rect x="414" y="546" width="2" height="12" fill="#007800"/>
<rect x="418" y="554" width="2" height="4" fill="#007800"/>
<rect x="423" y="533" width="2" height="25" fill="#007800"/>
<rect x="427" y="542" width="2" height="16" fill="#007800"/>
<rect x="432" y="535" width="2" height="23" fill="#007800"/>
<rect x="437" y="523" width="2" height="35" fill="#007800"/>
<rect x="441" y="528" width="2" height="30" fill="#007800"/>
<rect x="446" y="549" width="2" height="9" fill="#007800"/>
<rect x="451" y="548" width="2" height="10" fill="#007800"/>
<rect x="455" y="536" width="2" height="22" fill="#007800"/>
<rect x="460" y="544" width="2" height="14" fill="#007800"/>
<rect x="464" y="536" width="2" height="22" fill="#007800"/>
<rect x="469" y="551" width="2" height="7" fill="#007800"/>
<rect x="474" y="544" width="2" height="14" fill="#007800"/>
<rect x="478" y="530" width="2" height="28" fill="#007800"/>
<rect x="483" y="552" width="2" height="6" fill="#007800"/>
<rect x="488" y="524" width="2" height="34" fill="#007800"/>
<rect x="492" y="547" width="2" height="11" fill="#007800"/>
<rect x="497" y="539" width="2" height="19" fill="#007800"/>
<rect x="501" y="534" width="2" height="24" fill="#007800"/>
<rect x="506" y="553" width="2" height="5" fill="#007800"/>
<rect x="511" y="540" width="2" height="18" fill="#007800"/>
<rect x="515" y="534" width="2" height="24" fill="#007800"/>
<rect x="520" y="554" width="2" height="4" fill="#007800"/>
<rect x="525" y="528" width="2" height="30" fill="#007800"/>
<rect x="529" y="546" width="2" height="12" fill="#007800"/>
<rect x="534" y="546" width="2" height="12" fill="#007800"/>
<rect x="538" y="547" width="2" height="11" fill="#007800"/>
<rect x="543" y="546" width="2" height="12" fill="#007800"/>
<rect x="548" y="531" width="2" height="27" fill="#007800"/>
<rect x="552" y="551" width="2" height="7" fill="#007800"/>
<rect x="557" y="548" width="2" height="10" fill="#007800"/>
<rect x="562" y="538" width="2" height="20" fill="#007800"/>
<rect x="566" y="545" width="2" height="13" fill="#007800"/>
<rect x="571" y="556" width="2" height="2" fill="#007800"/>
<rect x="575" y="534" width="2" height="24" fill="#007800"/>
<rect x="580" y="506" width="2" height="52" fill="#007800"/>
<rect x="585" y="533" width="2" height="25" fill="#007800"/>
<rect x="589" y="541" width="2" height="17" fill="#007800"/>
<rect x="594" y="552" width="2" height="6" fill="#007800"/>
<rect x="599" y="556" width="2" height="2" fill="#007800"/>
<rect x="603" y="545" width="2" height="13" fill="#007800"/>
<rect x="608" y="555" width="2" height="3" fill="#007800"/>
<rect x="612" y="538" width="2" height="20" fill="#007800"/>
<rect x="617" y="531" width="2" height="27" fill="#007800"/>
<rect x="622" y="524" width="2" height="34" fill="#007800"/>
<rect x="626" y="554" width="2" height="4" fill="#007800"/>
<rect x="631" y="548" width="2" height="10" fill="#007800"/>
<rect x="636" y="555" width="2" height="3" fill="#007800"/>
<rect x="640" y="551" width="2" height="7" fill="#007800"/>
<rect x="645" y="553" width="2" height="5" fill="#007800"/>
<rect x="649" y="530" width="2" height="28" fill="#007800"/>
<rect x="654" y="553" width="2" height="5" fill="#007800"/>
<rect x="659" y="525" width="2" height="33" fill="#007800"/>
<rect x="663" y="534" width="2" height="24" fill="#007800"/>
<rect x="668" y="527" width="2" height="31" fill="#007800"/>
<rect x="673" y="540" width="2" height="18" fill="#007800"/>
<rect x="677" y="551" width="2" height="7" fill="#007800"/>
<rect x="682" y="543" width="2" height="15" fill="#007800"/>
<rect x="686" y="506" width="2" height="52" fill="#007800"/>
<rect x="691" y="549" width="2" height="9" fill="#007800"/>
<rect x="696" y="524" width="2" height="34" fill="#007800"/>
<rect x="700" y="546" width="2" height="12" fill="#007800"/>
<rect x="705" y="553" width="2" height="5" fill="#007800"/>
<rect x="710" y="528" width="2" height="30" fill="#007800"/>
<rect x="714" y="536" width="2" height="22" fill="#007800"/>
<rect x="719" y="531" width="2" height="27" fill="#007800"/>
<rect x="723" y="541" width="2" height="17" fill="#007800"/>
<rect x="728" y="532" width="2" height="26" fill="#007800"/>
<rect x="733" y="550" width="2" height="8" fill="#007800"/>
<rect x="737" y="547" width="2" height="11" fill="#007800"/>
<rect x="742" y="529" width="2" height="29" fill="#007800"/>
<rect x="747" y="538" width="2" height="20" fill="#007800"/>
<rect x="751" y="537" width="2" height="21" fill="#007800"/>
<rect x="756" y="547" width="2" height="11" fill="#007800"/>
<rect x="760" y="542" width="2" height="16" fill="#007800"/>
<rect x="765" y="555" width="2" height="3" fill="#007800"/>
<rect x="770" y="550" width="2" height="8" fill="#007800"/>
<rect x="774" y="551" width="2" height="7" fill="#007800"/>
<rect x="779" y="532" width="2" height="26" fill="#007800"/>
<rect x="784" y="554" width="2" height="4" fill="#007800"/>
<rect x="788" y="512" width="2" height="46" fill="#007800"/>
<rect x="793" y="555" width="2" height="3" fill="#007800"/>
<rect x="797" y="527" width="2" height="31" fill="#007800"/>
<rect x="802" y="529" width="2" height="29" fill="#007800"/>
<rect x="807" y="555" width="2" height="3" fill="#007800"/>
<rect x="811" y="527" width="2" height="31" fill="#007800"/>
<rect x="816" y="554" width="2" height="4" fill="#007800"/>
<rect x="821" y="526" width="2" height="32" fill="#007800"/>
<rect x="825" y="525" width="2" height="33" fill="#007800"/>
<rect x="830" y="555" width="2" height="3" fill="#007800"/>
<rect x="834" y="523" width="2" height="35" fill="#007800"/>
<rect x="839" y="547" width="2" height="11" fill="#007800"/>
<rect x="844" y="554" width="2" height="4" fill="#007800"/>
<rect x="848" y="524" width="2" height="34" fill="#007800"/>
<rect x="853" y="536" width="2" height="22" fill="#007800"/>
<rect x="858" y="533" width="2" height="25" fill="#007800"/>
<rect x="862" y="527" width="2" height="31" fill="#007800"/>
<rect x="867" y="545" width="2" height="13" fill="#007800"/>
<rect x="871" y="554" width="2" height="4" fill="#007800"/>
<rect x="876" y="547" width="2" height="11" fill="#007800"/>
<rect x="881" y="556" width="2" height="2" fill="#007800"/>
<rect x="885" y="543" width="2" height="15" fill="#007800"/>
<rect x="890" y="530" width="2" height="28" fill="#007800"/>
<rect x="895" y="532" width="2" height="26" fill="#007800"/>
<rect x="899" y="554" width="2" height="4" fill="#007800"/>
<rect x="904" y="556" width="2" height="2" fill="#007800"/>
<rect x="908" y="505" width="2" height="53" fill="#007800"/>
<rect x="913" y="554" width="2" height="4" fill="#007800"/>
<rect x="918" y="476" width="2" height="82" fill="#007800"/>
<rect x="922" y="555" width="2" height="3" fill="#007800"/>
<rect x="927" y="520" width="2" height="38" fill="#007800"/>
<rect x="932" y="541" width="2" height="17" fill="#007800"/>
<rect x="936" y="538" width="2" height="20" fill="#007800"/>
<rect x="941" y="556" width="2" height="2" fill="#007800"/>
<rect x="945" y="548" width="2" height="10" fill="#007800"/>
<rect x="950" y="556" width="2" height="2" fill="#007800"/>
<rect x="955" y="526" width="2" height="32" fill="#007800"/>
<rect x="959" y="525" width="2" height="33" fill="#007800"/>
<rect x="964" y="527" width="2" height="31" fill="#007800"/>
<rect x="969" y="526" width="2" height="32" fill="#007800"/>
<rect x="973" y="546" width="2" height="12" fill="#007800"/>
<rect x="978" y="537" width="2" height="21" fill="#007800"/>
<rect x="982" y="546" width="2" height="12" fill="#007800"/>
<rect x="987" y="526" width="2" height="32" fill="#007800"/>
<rect x="992" y="533" width="2" height="25" fill="#007800"/>
<rect x="996" y="551" width="2" height="7" fill="#007800"/>
<rect x="1001" y="555" width="2" height="3" fill="#007800"/>
<rect x="1006" y="534" width="2" height="24" fill="#007800"/>
<rect x="1010" y="528" width="2" height="30" fill="#007800"/>
<rect x="1015" y="547" width="2" height="11" fill="#007800"/>
<rect x="1019" y="522" width="2" height="36" fill="#007800"/>
<rect x="1024" y="519" width="2" height="39" fill="#007800"/>
<rect x="1029" y="527" width="2" height="31" fill="#007800"/>
<rect x="1033" y="551" width="2" height="7" fill="#007800"/>
<rect x="1038" y="528" width="2" height="30" fill="#007800"/>
<rect x="1043" y="535" width="2" height="23" fill="#007800"/>
<rect x="1047" y="552" width="2" height="6" fill="#007800"/>
<rect x="1052" y="551" width="2" height="7" fill="#007800"/>
<rect x="1056" y="532" width="2" height="26" fill="#007800"/>
<rect x="1061" y="554" width="2" height="4" fill="#007800"/>
<polyline fill="none" stroke="#ff1010" stroke-width="1.15" stroke-linejoin="round" points="7.6,543.2 34,541.9 59.5,540.7 76.5,541.2 102,540.7 136,539.9 153,539 170,537.6 183.5,537 195.4,537.6 205,538.2 239,539.3 256,538.2 278,539.3 307,538.2 324,538.2 341,537.3 358,537.8 381.7,536.8 392,538.2 410,539 427,538.7 444,537.8 469.5,538.2 486.5,539 503.4,538.5 520.4,539 546,539.9 571.4,540.7 585,539.5 597,540.2 614,541.2 623.5,540.2 640.5,541.5 666,541.5 683,541.2 700,540.7 717,540.7 742.4,540.2 768,540.5 785,540.4 802,539.3 813.8,540.4 825,540.2 837,539 862.5,538.7 888,539 905,539.3 918.5,538.2 939,538.2 952.5,539.3 964.4,538.5 990,538.2 1007,537.8 1024,537.3 1037,536.8 1062,537.8"/>
<rect x="7" y="751" width="2" height="8" fill="#dc143c"/>
<rect x="11" y="726" width="2" height="33" fill="#dc143c"/>
<rect x="16" y="694" width="2" height="65" fill="#dc143c"/>
<rect x="20" y="754" width="2" height="5" fill="#dc143c"/>
<rect x="25" y="732" width="2" height="27" fill="#dc143c"/>
<rect x="30" y="754" width="2" height="5" fill="#dc143c"/>
<rect x="34" y="731" width="2" height="28" fill="#dc143c"/>
<rect x="39" y="748" width="2" height="11" fill="#dc143c"/>
<rect x="44" y="749" width="2" height="10" fill="#dc143c"/>
<rect x="48" y="757" width="2" height="2" fill="#dc143c"/>
<rect x="53" y="688" width="2" height="71" fill="#dc143c"/>
<rect x="57" y="746" width="2" height="13" fill="#dc143c"/>
<rect x="62" y="728" width="2" height="31" fill="#dc143c"/>
<rect x="67" y="728" width="2" height="31" fill="#dc143c"/>
<rect x="71" y="692" width="2" height="67" fill="#dc143c"/>
<rect x="76" y="734" width="2" height="25" fill="#dc143c"/>
<rect x="81" y="720" width="2" height="39" fill="#dc143c"/>
<rect x="85" y="746" width="2" height="13" fill="#dc143c"/>
<rect x="90" y="732" width="2" height="27" fill="#dc143c"/>
<rect x="94" y="692" width="2" height="67" fill="#dc143c"/>
<rect x="99" y="686" width="2" height="73" fill="#dc143c"/>
<rect x="104" y="748" width="2" height="11" fill="#dc143c"/>
<rect x="108" y="728" width="2" height="31" fill="#dc143c"/>
<rect x="113" y="698" width="2" height="61" fill="#dc143c"/>
<rect x="118" y="749" width="2" height="10" fill="#dc143c"/>
<rect x="122" y="677" width="2" height="82" fill="#dc143c"/>
<rect x="127" y="681" width="2" height="78" fill="#dc143c"/>
<rect x="131" y="658" width="2" height="101" fill="#dc143c"/>
<rect x="136" y="758" width="2" height="1" fill="#dc143c"/>
<rect x="141" y="708" width="2" height="51" fill="#dc143c"/>
<rect x="145" y="757" width="2" height="2" fill="#dc143c"/>
<rect x="150" y="727" width="2" height="32" fill="#dc143c"/>
<rect x="155" y="748" width="2" height="11" fill="#dc143c"/>
<rect x="159" y="756" width="2" height="3" fill="#dc143c"/>
<rect x="164" y="747" width="2" height="12" fill="#dc143c"/>
<rect x="168" y="757" width="2" height="2" fill="#dc143c"/>
<rect x="173" y="750" width="2" height="9" fill="#dc143c"/>
<rect x="178" y="752" width="2" height="7" fill="#dc143c"/>
<rect x="182" y="718" width="2" height="41" fill="#dc143c"/>
<rect x="187" y="747" width="2" height="12" fill="#dc143c"/>
<rect x="192" y="697" width="2" height="62" fill="#dc143c"/>
<rect x="196" y="757" width="2" height="2" fill="#dc143c"/>
<rect x="201" y="714" width="2" height="45" fill="#dc143c"/>
<rect x="205" y="750" width="2" height="9" fill="#dc143c"/>
<rect x="210" y="691" width="2" height="68" fill="#dc143c"/>
<rect x="215" y="705" width="2" height="54" fill="#dc143c"/>
<rect x="219" y="751" width="2" height="8" fill="#dc143c"/>
<rect x="224" y="687" width="2" height="72" fill="#dc143c"/>
<rect x="229" y="707" width="2" height="52" fill="#dc143c"/>
<rect x="233" y="750" width="2" height="9" fill="#dc143c"/>
<rect x="238" y="692" width="2" height="67" fill="#dc143c"/>
<rect x="242" y="752" width="2" height="7" fill="#dc143c"/>
<rect x="247" y="745" width="2" height="14" fill="#dc143c"/>
<rect x="252" y="754" width="2" height="5" fill="#dc143c"/>
<rect x="256" y="755" width="2" height="4" fill="#dc143c"/>
<rect x="261" y="725" width="2" height="34" fill="#dc143c"/>
<rect x="266" y="720" width="2" height="39" fill="#dc143c"/>
<rect x="270" y="731" width="2" height="28" fill="#dc143c"/>
<rect x="275" y="716" width="2" height="43" fill="#dc143c"/>
<rect x="279" y="755" width="2" height="4" fill="#dc143c"/>
<rect x="284" y="663" width="2" height="96" fill="#dc143c"/>
<rect x="289" y="745" width="2" height="14" fill="#dc143c"/>
<rect x="293" y="752" width="2" height="7" fill="#dc143c"/>
<rect x="298" y="745" width="2" height="14" fill="#dc143c"/>
<rect x="303" y="749" width="2" height="10" fill="#dc143c"/>
<rect x="307" y="722" width="2" height="37" fill="#dc143c"/>
<rect x="312" y="752" width="2" height="7" fill="#dc143c"/>
<rect x="316" y="707" width="2" height="52" fill="#dc143c"/>
<rect x="321" y="746" width="2" height="13" fill="#dc143c"/>
<rect x="326" y="744" width="2" height="15" fill="#dc143c"/>
<rect x="330" y="755" width="2" height="4" fill="#dc143c"/>
<rect x="335" y="738" width="2" height="21" fill="#dc143c"/>
<rect x="340" y="756" width="2" height="3" fill="#dc143c"/>
<rect x="344" y="723" width="2" height="36" fill="#dc143c"/>
<rect x="349" y="746" width="2" height="13" fill="#dc143c"/>
<rect x="353" y="730" width="2" height="29" fill="#dc143c"/>
<rect x="358" y="754" width="2" height="5" fill="#dc143c"/>
<rect x="363" y="708" width="2" height="51" fill="#dc143c"/>
<rect x="367" y="746" width="2" height="13" fill="#dc143c"/>
<rect x="372" y="751" width="2" height="8" fill="#dc143c"/>
<rect x="377" y="753" width="2" height="6" fill="#dc143c"/>
<rect x="381" y="752" width="2" height="7" fill="#dc143c"/>
<rect x="386" y="721" width="2" height="38" fill="#dc143c"/>
<rect x="390" y="704" width="2" height="55" fill="#dc143c"/>
<rect x="395" y="749" width="2" height="10" fill="#dc143c"/>
<rect x="400" y="754" width="2" height="5" fill="#dc143c"/>
<rect x="404" y="731" width="2" height="28" fill="#dc143c"/>
<rect x="409" y="750" width="2" height="9" fill="#dc143c"/>
<rect x="414" y="723" width="2" height="36" fill="#dc143c"/>
<rect x="418" y="693" width="2" height="66" fill="#dc143c"/>
<rect x="423" y="742" width="2" height="17" fill="#dc143c"/>
<rect x="427" y="739" width="2" height="20" fill="#dc143c"/>
<rect x="432" y="757" width="2" height="2" fill="#dc143c"/>
<rect x="437" y="748" width="2" height="11" fill="#dc143c"/>
<rect x="441" y="754" width="2" height="5" fill="#dc143c"/>
<rect x="446" y="722" width="2" height="37" fill="#dc143c"/>
<rect x="451" y="723" width="2" height="36" fill="#dc143c"/>
<rect x="455" y="747" width="2" height="12" fill="#dc143c"/>
<rect x="460" y="730" width="2" height="29" fill="#dc143c"/>
<rect x="464" y="741" width="2" height="18" fill="#dc143c"/>
<rect x="469" y="703" width="2" height="56" fill="#dc143c"/>
<rect x="474" y="726" width="2" height="33" fill="#dc143c"/>
<rect x="478" y="754" width="2" height="5" fill="#dc143c"/>
<rect x="483" y="712" width="2" height="47" fill="#dc143c"/>
<rect x="488" y="737" width="2" height="22" fill="#dc143c"/>
<rect x="492" y="722" width="2" height="37" fill="#dc143c"/>
<rect x="497" y="714" width="2" height="45" fill="#dc143c"/>
<rect x="501" y="752" width="2" height="7" fill="#dc143c"/>
<rect x="506" y="720" width="2" height="39" fill="#dc143c"/>
<rect x="511" y="755" width="2" height="4" fill="#dc143c"/>
<rect x="515" y="753" width="2" height="6" fill="#dc143c"/>
<rect x="520" y="751" width="2" height="8" fill="#dc143c"/>
<rect x="525" y="753" width="2" height="6" fill="#dc143c"/>
<rect x="529" y="731" width="2" height="28" fill="#dc143c"/>
<rect x="534" y="729" width="2" height="30" fill="#dc143c"/>
<rect x="538" y="726" width="2" height="33" fill="#dc143c"/>
<rect x="543" y="724" width="2" height="35" fill="#dc143c"/>
<rect x="548" y="748" width="2" height="11" fill="#dc143c"/>
<rect x="552" y="726" width="2" height="33" fill="#dc143c"/>
<rect x="557" y="721" width="2" height="38" fill="#dc143c"/>
<rect x="562" y="727" width="2" height="32" fill="#dc143c"/>
<rect x="566" y="715" width="2" height="44" fill="#dc143c"/>
<rect x="571" y="694" width="2" height="65" fill="#dc143c"/>
<rect x="575" y="740" width="2" height="19" fill="#dc143c"/>
<rect x="580" y="741" width="2" height="18" fill="#dc143c"/>
<rect x="585" y="754" width="2" height="5" fill="#dc143c"/>
<rect x="589" y="758" width="2" height="1" fill="#dc143c"/>
<rect x="594" y="736" width="2" height="23" fill="#dc143c"/>
<rect x="599" y="717" width="2" height="42" fill="#dc143c"/>
<rect x="603" y="739" width="2" height="20" fill="#dc143c"/>
<rect x="608" y="724" width="2" height="35" fill="#dc143c"/>
<rect x="612" y="741" width="2" height="18" fill="#dc143c"/>
<rect x="617" y="752" width="2" height="7" fill="#dc143c"/>
<rect x="622" y="754" width="2" height="5" fill="#dc143c"/>
<rect x="626" y="697" width="2" height="62" fill="#dc143c"/>
<rect x="631" y="725" width="2" height="34" fill="#dc143c"/>
<rect x="636" y="708" width="2" height="51" fill="#dc143c"/>
<rect x="640" y="719" width="2" height="40" fill="#dc143c"/>
<rect x="645" y="719" width="2" height="40" fill="#dc143c"/>
<rect x="649" y="757" width="2" height="2" fill="#dc143c"/>
<rect x="654" y="715" width="2" height="44" fill="#dc143c"/>
<rect x="659" y="756" width="2" height="3" fill="#dc143c"/>
<rect x="663" y="740" width="2" height="19" fill="#dc143c"/>
<rect x="668" y="751" width="2" height="8" fill="#dc143c"/>
<rect x="673" y="744" width="2" height="15" fill="#dc143c"/>
<rect x="677" y="716" width="2" height="43" fill="#dc143c"/>
<rect x="682" y="663" width="2" height="96" fill="#dc143c"/>
<rect x="686" y="753" width="2" height="6" fill="#dc143c"/>
<rect x="691" y="704" width="2" height="55" fill="#dc143c"/>
<rect x="696" y="742" width="2" height="17" fill="#dc143c"/>
<rect x="700" y="702" width="2" height="57" fill="#dc143c"/>
<rect x="705" y="697" width="2" height="62" fill="#dc143c"/>
<rect x="710" y="755" width="2" height="4" fill="#dc143c"/>
<rect x="714" y="736" width="2" height="23" fill="#dc143c"/>
<rect x="719" y="750" width="2" height="9" fill="#dc143c"/>
<rect x="723" y="730" width="2" height="29" fill="#dc143c"/>
<rect x="728" y="753" width="2" height="6" fill="#dc143c"/>
<rect x="733" y="726" width="2" height="33" fill="#dc143c"/>
<rect x="737" y="731" width="2" height="28" fill="#dc143c"/>
<rect x="742" y="756" width="2" height="3" fill="#dc143c"/>
<rect x="747" y="744" width="2" height="15" fill="#dc143c"/>
<rect x="751" y="739" width="2" height="20" fill="#dc143c"/>
<rect x="756" y="732" width="2" height="27" fill="#dc143c"/>
<rect x="760" y="743" width="2" height="16" fill="#dc143c"/>
<rect x="765" y="703" width="2" height="56" fill="#dc143c"/>
<rect x="770" y="711" width="2" height="48" fill="#dc143c"/>
<rect x="774" y="705" width="2" height="54" fill="#dc143c"/>
<rect x="779" y="741" width="2" height="18" fill="#dc143c"/>
<rect x="784" y="690" width="2" height="69" fill="#dc143c"/>
<rect x="788" y="757" width="2" height="2" fill="#dc143c"/>
<rect x="793" y="691" width="2" height="68" fill="#dc143c"/>
<rect x="797" y="732" width="2" height="27" fill="#dc143c"/>
<rect x="802" y="749" width="2" height="10" fill="#dc143c"/>
<rect x="807" y="701" width="2" height="58" fill="#dc143c"/>
<rect x="811" y="743" width="2" height="16" fill="#dc143c"/>
<rect x="816" y="685" width="2" height="74" fill="#dc143c"/>
<rect x="821" y="735" width="2" height="24" fill="#dc143c"/>
<rect x="825" y="745" width="2" height="14" fill="#dc143c"/>
<rect x="830" y="699" width="2" height="60" fill="#dc143c"/>
<rect x="834" y="757" width="2" height="2" fill="#dc143c"/>
<rect x="839" y="719" width="2" height="40" fill="#dc143c"/>
<rect x="844" y="703" width="2" height="56" fill="#dc143c"/>
<rect x="848" y="756" width="2" height="3" fill="#dc143c"/>
<rect x="853" y="739" width="2" height="20" fill="#dc143c"/>
<rect x="858" y="720" width="2" height="39" fill="#dc143c"/>
<rect x="862" y="755" width="2" height="4" fill="#dc143c"/>
<rect x="867" y="736" width="2" height="23" fill="#dc143c"/>
<rect x="871" y="706" width="2" height="53" fill="#dc143c"/>
<rect x="876" y="726" width="2" height="33" fill="#dc143c"/>
<rect x="881" y="707" width="2" height="52" fill="#dc143c"/>
<rect x="885" y="713" width="2" height="46" fill="#dc143c"/>
<rect x="890" y="754" width="2" height="5" fill="#dc143c"/>
<rect x="895" y="750" width="2" height="9" fill="#dc143c"/>
<rect x="899" y="681" width="2" height="78" fill="#dc143c"/>
<rect x="904" y="647" width="2" height="112" fill="#dc143c"/>
<rect x="908" y="720" width="2" height="39" fill="#dc143c"/>
<rect x="913" y="665" width="2" height="94" fill="#dc143c"/>
<rect x="918" y="758" width="2" height="1" fill="#dc143c"/>
<rect x="922" y="665" width="2" height="94" fill="#dc143c"/>
<rect x="927" y="751" width="2" height="8" fill="#dc143c"/>
<rect x="932" y="723" width="2" height="36" fill="#dc143c"/>
<rect x="936" y="739" width="2" height="20" fill="#dc143c"/>
<rect x="941" y="690" width="2" height="69" fill="#dc143c"/>
<rect x="945" y="715" width="2" height="44" fill="#dc143c"/>
<rect x="950" y="705" width="2" height="54" fill="#dc143c"/>
<rect x="955" y="758" width="2" height="1" fill="#dc143c"/>
<rect x="959" y="755" width="2" height="4" fill="#dc143c"/>
<rect x="964" y="756" width="2" height="3" fill="#dc143c"/>
<rect x="969" y="754" width="2" height="5" fill="#dc143c"/>
<rect x="973" y="728" width="2" height="31" fill="#dc143c"/>
<rect x="978" y="750" width="2" height="9" fill="#dc143c"/>
<rect x="982" y="718" width="2" height="41" fill="#dc143c"/>
<rect x="987" y="749" width="2" height="10" fill="#dc143c"/>
<rect x="992" y="741" width="2" height="18" fill="#dc143c"/>
<rect x="996" y="726" width="2" height="33" fill="#dc143c"/>
<rect x="1001" y="721" width="2" height="38" fill="#dc143c"/>
<rect x="1006" y="735" width="2" height="24" fill="#dc143c"/>
<rect x="1010" y="755" width="2" height="4" fill="#dc143c"/>
<rect x="1015" y="736" width="2" height="23" fill="#dc143c"/>
<rect x="1019" y="756" width="2" height="3" fill="#dc143c"/>
<rect x="1024" y="751" width="2" height="8" fill="#dc143c"/>
<rect x="1029" y="744" width="2" height="15" fill="#dc143c"/>
<rect x="1033" y="710" width="2" height="49" fill="#dc143c"/>
<rect x="1038" y="749" width="2" height="10" fill="#dc143c"/>
<rect x="1043" y="750" width="2" height="9" fill="#dc143c"/>
<rect x="1047" y="721" width="2" height="38" fill="#dc143c"/>
<rect x="1052" y="703" width="2" height="56" fill="#dc143c"/>
<rect x="1056" y="749" width="2" height="10" fill="#dc143c"/>
<rect x="1061" y="712" width="2" height="47" fill="#dc143c"/>
<polyline fill="none" stroke="#2a922a" stroke-width="1.3" stroke-linejoin="round" points="7.6,728.6 20.4,728.6 27.2,729.9 51,730.3 54.4,729.6 62.9,731 73,729.3 91.7,729.6 102,727.4 119,726.2 130.8,723.5 149.5,722.5 161.4,725.2 173.3,724.8 183.5,726.9 195.4,726.2 205,726.2 215.2,724.5 225.4,726.9 239,726 256,727.9 273,726.2 286.5,725.4 303.5,727.4 320.5,727.4 330.7,729.6 349.4,730.8 363,734.2 381.7,735 392,733.3 410,733.3 420.2,732 432,733.3 444,735 450.8,734.5 461,735.9 478,735.5 495,734.5 512,735 518.7,736.7 537.4,736.2 551,736.2 563,735 573,733.3 586.7,734.2 597,734.7 610.5,733.3 615,733.8 621.8,735 632,733 645.6,732 650.7,733.3 666,732.8 683,731.3 706.7,730.3 720.3,731.1 730.5,732 747.5,731.3 768,730.3 785,729.4 795,729.4 803.6,730.4 812,729.6 818.9,728.2 825,727.9 837,727.9 854,726.9 867.6,728.6 879.5,728.2 894.8,727.7 905,724.5 922,724 937.2,725.4 950.8,722.6 969.5,724.3 983,723.5 998.4,724.3 1012,725.7 1024,727.4 1028.5,727.7 1037,727 1047,728.2 1062,728.2"/>
<rect x="1154" y="67" width="4" height="1" fill="#222"/>
<rect x="1154" y="82" width="4" height="1" fill="#222"/>
<rect x="1154" y="97" width="4" height="1" fill="#222"/>
<rect x="1154" y="111" width="4" height="1" fill="#222"/>
<rect x="1154" y="126" width="4" height="1" fill="#222"/>
<rect x="1154" y="141" width="4" height="1" fill="#222"/>
<rect x="1154" y="156" width="4" height="1" fill="#222"/>
<rect x="1154" y="170" width="4" height="1" fill="#222"/>
<rect x="1154" y="185" width="4" height="1" fill="#222"/>
<rect x="1154" y="200" width="4" height="1" fill="#222"/>
<rect x="1154" y="215" width="4" height="1" fill="#222"/>
<rect x="1154" y="229" width="4" height="1" fill="#222"/>
<rect x="1154" y="244" width="4" height="1" fill="#222"/>
<rect x="1154" y="303" width="4" height="1" fill="#222"/>
<rect x="1154" y="315" width="4" height="1" fill="#222"/>
<rect x="1154" y="327" width="4" height="1" fill="#222"/>
<rect x="1154" y="292" width="4" height="1" fill="#222"/>
<rect x="1154" y="380" width="4" height="1" fill="#222"/>
<rect x="1154" y="403" width="4" height="1" fill="#222"/>
<rect x="1154" y="415" width="4" height="1" fill="#222"/>
<rect x="1154" y="427" width="4" height="1" fill="#222"/>
<rect x="1154" y="439" width="4" height="1" fill="#222"/>
<rect x="1154" y="479" width="4" height="1" fill="#222"/>
<rect x="1154" y="501" width="4" height="1" fill="#222"/>
<rect x="1154" y="523" width="4" height="1" fill="#222"/>
<rect x="1154" y="664" width="4" height="1" fill="#222"/>
<rect x="1154" y="683" width="4" height="1" fill="#222"/>
<rect x="1154" y="702" width="4" height="1" fill="#222"/>
<rect x="1154" y="721" width="4" height="1" fill="#222"/>
<rect x="1154" y="739" width="4" height="1" fill="#222"/>
<rect x="1154" y="281" width="7" height="1" fill="#0000ff"/>
<rect x="1154" y="295" width="7" height="1" fill="#008000"/>
<rect x="1154" y="431" width="7" height="1" fill="#0000ff"/>
<rect x="1154" y="554" width="7" height="1" fill="#008000"/>
<rect x="1154" y="712" width="7" height="1" fill="#dc143c"/>
<defs><clipPath id="lgc"><rect x="0" y="0" width="21" height="21"/></clipPath></defs>
<g transform="translate(5,783)" clip-path="url(#lgc)"><rect x="0" y="0" width="21" height="21" rx="3.2" fill="#0d4078"/><circle cx="14.5" cy="14.6" r="9.5" fill="#fff"/><circle cx="15.0" cy="14.1" r="6.5" fill="#0d4078"/><circle cx="13.1" cy="12.9" r="3.6" fill="#fff"/><circle cx="13.9" cy="13.7" r="3.3" fill="#0d4078"/></g>
<path d="M86.4 788.2 v3 M84.9 789.7 h3" stroke="#0d4078" stroke-width="0.9" fill="none"/></svg>
<div class="t" style="left:15.00px;top:3.80px;font-size:11.33px;color:#222;letter-spacing:-0.108px;">S&amp;P 500 Index - SPX (US) - Daily CandleStick Chart - USD - CW Volume Layout</div>
<div class="t" style="left:8.90px;top:23.00px;font-size:11.33px;color:#fff;letter-spacing:-0.326px;">1950</div>
<div class="t" style="left:41.20px;top:23.00px;font-size:11.33px;color:#fff;letter-spacing:-0.326px;">1952</div>
<div class="t" style="left:73.50px;top:23.00px;font-size:11.33px;color:#fff;letter-spacing:-0.326px;">1954</div>
<div class="t" style="left:105.80px;top:23.00px;font-size:11.33px;color:#fff;letter-spacing:-0.326px;">1956</div>
<div class="t" style="left:138.10px;top:23.00px;font-size:11.33px;color:#fff;letter-spacing:-0.326px;">1958</div>
<div class="t" style="left:170.40px;top:23.00px;font-size:11.33px;color:#fff;letter-spacing:-0.326px;">1960</div>
<div class="t" style="left:202.70px;top:23.00px;font-size:11.33px;color:#fff;letter-spacing:-0.326px;">1962</div>
<div class="t" style="left:235.00px;top:23.00px;font-size:11.33px;color:#fff;letter-spacing:-0.326px;">1964</div>
<div class="t" style="left:267.30px;top:23.00px;font-size:11.33px;color:#fff;letter-spacing:-0.326px;">1966</div>
<div class="t" style="left:299.60px;top:23.00px;font-size:11.33px;color:#fff;letter-spacing:-0.326px;">1968</div>
<div class="t" style="left:331.90px;top:23.00px;font-size:11.33px;color:#fff;letter-spacing:-0.326px;">1970</div>
<div class="t" style="left:364.20px;top:23.00px;font-size:11.33px;color:#fff;letter-spacing:-0.326px;">1972</div>
<div class="t" style="left:396.50px;top:23.00px;font-size:11.33px;color:#fff;letter-spacing:-0.326px;">1974</div>
<div class="t" style="left:428.80px;top:23.00px;font-size:11.33px;color:#fff;letter-spacing:-0.326px;">1976</div>
<div class="t" style="left:461.10px;top:23.00px;font-size:11.33px;color:#fff;letter-spacing:-0.326px;">1978</div>
<div class="t" style="left:493.40px;top:23.00px;font-size:11.33px;color:#fff;letter-spacing:-0.326px;">1980</div>
<div class="t" style="left:525.70px;top:23.00px;font-size:11.33px;color:#fff;letter-spacing:-0.326px;">1982</div>
<div class="t" style="left:558.00px;top:23.00px;font-size:11.33px;color:#fff;letter-spacing:-0.326px;">1984</div>
<div class="t" style="left:590.30px;top:23.00px;font-size:11.33px;color:#fff;letter-spacing:-0.326px;">1986</div>
<div class="t" style="left:622.60px;top:23.00px;font-size:11.33px;color:#fff;letter-spacing:-0.326px;">1988</div>
<div class="t" style="left:654.90px;top:23.00px;font-size:11.33px;color:#fff;letter-spacing:-0.326px;">1990</div>
<div class="t" style="left:687.20px;top:23.00px;font-size:11.33px;color:#fff;letter-spacing:-0.326px;">1992</div>
<div class="t" style="left:719.50px;top:23.00px;font-size:11.33px;color:#fff;letter-spacing:-0.326px;">1994</div>
<div class="t" style="left:751.80px;top:23.00px;font-size:11.33px;color:#fff;letter-spacing:-0.326px;">1996</div>
<div class="t" style="left:784.10px;top:23.00px;font-size:11.33px;color:#fff;letter-spacing:-0.326px;">1998</div>
<div class="t" style="left:816.40px;top:23.00px;font-size:11.33px;color:#fff;letter-spacing:-0.326px;">2000</div>
<div class="t" style="left:848.70px;top:23.00px;font-size:11.33px;color:#fff;letter-spacing:-0.326px;">2002</div>
<div class="t" style="left:881.00px;top:23.00px;font-size:11.33px;color:#fff;letter-spacing:-0.326px;">2004</div>
<div class="t" style="left:913.30px;top:23.00px;font-size:11.33px;color:#fff;letter-spacing:-0.326px;">2006</div>
<div class="t" style="left:945.60px;top:23.00px;font-size:11.33px;color:#fff;letter-spacing:-0.326px;">2008</div>
<div class="t" style="left:977.90px;top:23.00px;font-size:11.33px;color:#fff;letter-spacing:-0.326px;">2010</div>
<div class="t" style="left:1010.20px;top:23.00px;font-size:11.33px;color:#fff;letter-spacing:-0.326px;">2012</div>
<div class="t" style="left:1042.50px;top:23.00px;font-size:11.33px;color:#fff;letter-spacing:-0.326px;">2014</div>
<div class="t" style="left:1074.80px;top:23.00px;font-size:11.33px;color:#fff;letter-spacing:-0.326px;">2016</div>
<div class="t" style="left:1107.10px;top:23.00px;font-size:11.33px;color:#fff;letter-spacing:-0.326px;">2018</div>
<div class="t" style="left:1139.40px;top:23.00px;font-size:11.33px;color:#fff;letter-spacing:-0.326px;">2020</div>
<div class="t" style="left:1171.70px;top:23.00px;font-size:11.33px;color:#fff;letter-spacing:-0.326px;">2022</div>
<div class="t" style="left:1204.00px;top:23.00px;font-size:11.33px;color:#fff;letter-spacing:-0.326px;">2024</div>
<div class="t" style="left:1163.20px;top:59.40px;font-size:11.33px;color:#222;letter-spacing:-0.308px;">6100.00</div>
<div class="t" style="left:1163.20px;top:74.11px;font-size:11.33px;color:#222;letter-spacing:-0.308px;">6000.00</div>
<div class="t" style="left:1163.20px;top:88.82px;font-size:11.33px;color:#222;letter-spacing:-0.308px;">5900.00</div>
<div class="t" style="left:1163.20px;top:103.53px;font-size:11.33px;color:#222;letter-spacing:-0.308px;">5800.00</div>
<div class="t" style="left:1163.20px;top:118.24px;font-size:11.33px;color:#222;letter-spacing:-0.308px;">5700.00</div>
<div class="t" style="left:1163.20px;top:132.95px;font-size:11.33px;color:#222;letter-spacing:-0.308px;">5600.00</div>
<div class="t" style="left:1163.20px;top:147.66px;font-size:11.33px;color:#222;letter-spacing:-0.308px;">5500.00</div>
<div class="t" style="left:1163.20px;top:162.37px;font-size:11.33px;color:#222;letter-spacing:-0.308px;">5400.00</div>
<div class="t" style="left:1163.20px;top:177.08px;font-size:11.33px;color:#222;letter-spacing:-0.308px;">5300.00</div>
<div class="t" style="left:1163.20px;top:191.79px;font-size:11.33px;color:#222;letter-spacing:-0.308px;">5200.00</div>
<div class="t" style="left:1163.20px;top:206.50px;font-size:11.33px;color:#222;letter-spacing:-0.308px;">5100.00</div>
<div class="t" style="left:1163.20px;top:221.21px;font-size:11.33px;color:#222;letter-spacing:-0.308px;">5000.00</div>
<div class="t" style="left:1163.20px;top:235.92px;font-size:11.33px;color:#222;letter-spacing:-0.308px;">4900.00</div>
<div class="box" style="left:1161px;top:104px;width:51px;height:14px;background:#000;font-size:11.33px;letter-spacing:-0.25px">5,802.82</div>
<div class="t" style="left:909.70px;top:80.30px;font-size:11.6px;color:#111;letter-spacing:-0.226px;">6000</div>
<div class="t" style="left:937.80px;top:109.00px;font-size:11.6px;color:#111;letter-spacing:-0.276px;">5800</div>
<div class="t" style="left:731.10px;top:156.30px;font-size:11.6px;color:#111;letter-spacing:-0.351px;">5500</div>
<div class="t" style="left:850.00px;top:192.00px;font-size:11.6px;color:#111;letter-spacing:-0.351px;">5200</div>
<div class="t" style="left:1122.90px;top:178.00px;font-size:11.6px;color:#111;letter-spacing:-0.401px;">5400</div>
<div class="t" style="left:1163.00px;top:261.00px;font-size:11.33px;color:#222;letter-spacing:0.453px;">Billion</div>
<div class="t" style="left:1163.20px;top:295.40px;font-size:11.33px;color:#222;letter-spacing:-0.401px;">297</div>
<div class="t" style="left:1163.20px;top:307.30px;font-size:11.33px;color:#222;letter-spacing:-0.401px;">284</div>
<div class="t" style="left:1163.20px;top:319.20px;font-size:11.33px;color:#222;letter-spacing:-0.401px;">271</div>
<div class="box" style="left:1161px;top:274px;width:27px;height:13px;background:#0000ff;font-size:11.33px;line-height:13px;letter-spacing:-0.25px">320</div>
<div class="box" style="left:1161px;top:289px;width:27px;height:13px;background:#008000;font-size:11.33px;line-height:13px;letter-spacing:-0.25px">305</div>
<div class="t" style="left:1163.10px;top:362.20px;font-size:11.33px;color:#222;letter-spacing:0.499px;">Million</div>
<div class="t" style="left:1163.20px;top:372.00px;font-size:11.33px;color:#222;letter-spacing:-0.201px;">70</div>
<div class="t" style="left:1163.20px;top:395.30px;font-size:11.33px;color:#222;letter-spacing:-0.201px;">50</div>
<div class="t" style="left:1163.20px;top:407.00px;font-size:11.33px;color:#222;letter-spacing:-0.201px;">40</div>
<div class="t" style="left:1163.20px;top:429.90px;font-size:11.33px;color:#222;letter-spacing:-0.201px;">20</div>
<div class="box" style="left:1161px;top:424px;width:21px;height:14px;background:#0000ff;font-size:11.33px;letter-spacing:-0.25px">27</div>
<div class="t" style="left:1163.10px;top:462.20px;font-size:11.33px;color:#222;letter-spacing:0.499px;">Million</div>
<div class="t" style="left:1163.20px;top:471.00px;font-size:11.33px;color:#222;letter-spacing:-0.201px;">70</div>
<div class="t" style="left:1163.20px;top:493.10px;font-size:11.33px;color:#222;letter-spacing:-0.201px;">50</div>
<div class="t" style="left:1163.20px;top:515.30px;font-size:11.33px;color:#222;letter-spacing:-0.201px;">30</div>
<div class="box" style="left:1161px;top:545px;width:15px;height:14px;background:#008000;font-size:11.33px">2</div>
<div class="t" style="left:1163.10px;top:633.20px;font-size:11.33px;color:#222;letter-spacing:0.499px;">Million</div>
<div class="t" style="left:1163.20px;top:656.00px;font-size:11.33px;color:#222;letter-spacing:-0.201px;">50</div>
<div class="t" style="left:1163.20px;top:675.20px;font-size:11.33px;color:#222;letter-spacing:-0.201px;">40</div>
<div class="t" style="left:1163.20px;top:693.90px;font-size:11.33px;color:#222;letter-spacing:-0.201px;">30</div>
<div class="t" style="left:1163.20px;top:712.60px;font-size:11.33px;color:#222;letter-spacing:-0.201px;">20</div>
<div class="t" style="left:1163.20px;top:731.30px;font-size:11.33px;color:#222;letter-spacing:-0.201px;">10</div>
<div class="box" style="left:1161px;top:705px;width:21px;height:14px;background:#dc143c;font-size:11.33px;letter-spacing:-0.25px">25</div>
<div class="t" style="left:115.50px;top:262.30px;font-size:11.33px;color:#1414f0;letter-spacing:-0.560px;">S&amp;P 500 (SPX)</div>
<div class="t" style="left:192.20px;top:262.30px;font-size:11.33px;color:#1414f0;letter-spacing:0.156px;">Capital Weighted Volume</div>
<div class="t" style="left:325.80px;top:262.30px;font-size:11.33px;color:#0a800a;letter-spacing:0.101px;">&amp; 40 Period Simple Moving Average</div>
<div class="t" style="left:11.70px;top:363.00px;font-size:11.33px;color:#1414f0;letter-spacing:-0.560px;">S&amp;P 500 (SPX)</div>
<div class="t" style="left:88.40px;top:363.00px;font-size:11.33px;color:#1414f0;letter-spacing:0.147px;">Capital Weighted Volume</div>
<div class="t" style="left:221.50px;top:363.00px;font-size:11.33px;color:#0a800a;letter-spacing:0.107px;">&amp; 50 Period Simple Moving Average</div>
<div class="t" style="left:11.70px;top:463.00px;font-size:11.33px;color:#0a800a;letter-spacing:-0.560px;">S&amp;P 500 (SPX)</div>
<div class="t" style="left:88.40px;top:463.00px;font-size:11.33px;color:#0a800a;letter-spacing:0.142px;">Upside Capital Weighted Volume</div>
<div class="t" style="left:260.90px;top:463.00px;font-size:11.33px;color:#ff1a1a;letter-spacing:0.086px;">&amp; 50 Period Simple Moving Average</div>
<div class="t" style="left:11.70px;top:634.00px;font-size:11.33px;color:#dc143c;letter-spacing:-0.560px;">S&amp;P 500 (SPX)</div>
<div class="t" style="left:88.40px;top:634.00px;font-size:11.33px;color:#dc143c;letter-spacing:0.165px;">Downside Capital Weighted Volume</div>
<div class="t" style="left:276.70px;top:634.00px;font-size:11.33px;color:#0a800a;letter-spacing:0.095px;">&amp; 50 Period Simple Moving Average</div>
<div class="t" style="left:20.00px;top:762.50px;font-size:11.33px;color:#222;">Jul</div>
<div class="t" style="left:221.50px;top:762.50px;font-size:11.33px;color:#222;">Sep</div>
<div class="t" style="left:423.50px;top:762.50px;font-size:11.33px;color:#222;">Nov</div>
<div class="t" style="left:610.50px;top:762.50px;font-size:11.33px;color:#222;">2025</div>
<div class="t" style="left:789.50px;top:762.50px;font-size:11.33px;color:#222;">Mar</div>
<div class="t" style="left:988.50px;top:762.50px;font-size:11.33px;color:#222;">May</div>
<div class="t" style="left:574.50px;top:784.40px;font-size:12.4px;color:#111;letter-spacing:0.343px;">24th May 2025</div>
<div class="t" style="left:27.8px;top:784.3px;font-size:18px;font-weight:bold;color:#0d4078;letter-spacing:-1.95px;line-height:21px;height:21px">Optuma</div>
<div style="position:absolute;left:1217px;top:378px;width:12px;height:28px;border:1px solid #ccc;border-right:none;border-radius:3px 0 0 3px;background:#fff"></div>
<svg style="position:absolute;left:1219px;top:385px" width="9" height="14" viewBox="0 0 9 14"><path d="M7.2 2.8 L2.6 7.4 L7.2 12" fill="none" stroke="#555" stroke-width="2.5"/></svg>
<div id="legend"><div class="lk" style="letter-spacing:-0.198px">Chart Key</div>
<div class="lr" style="top:23.2px"><span class="ll" style="left:24.7px;letter-spacing:-0.537px">SPX</span><span class="lv" style="letter-spacing:-0.517px">5,802.82</span><span class="ls" style="background:#000"></span></div>
<div class="lr" style="top:44.2px"><span class="ll" style="left:24.7px;letter-spacing:-0.030px">Capital Weighted Volume</span><span class="lv" style="letter-spacing:-0.532px">319,829,220,539</span><span class="ls" style="background:#0000ff"></span></div>
<div class="lr" style="top:65.1px"><span class="ll" style="left:37.0px;letter-spacing:-0.219px">Moving Average (40)</span><span class="lv" style="letter-spacing:-0.532px">305,447,375,927</span><span class="ls" style="background:#008000"></span></div>
<div class="lr" style="top:86.1px"><span class="ll" style="left:24.7px;letter-spacing:-0.030px">Capital Weighted Volume</span><span class="lv" style="letter-spacing:-0.532px">26,545,400</span><span class="ls" style="background:#0000ff"></span></div>
<div class="lr" style="top:107.0px"><span class="ll" style="left:37.0px;letter-spacing:-0.219px">Moving Average (50)</span><span class="lv" style="letter-spacing:-0.532px">32,608,675</span><span class="ls" style="background:#008000"></span></div>
<div class="lr" style="top:127.9px"><span class="ll" style="left:24.7px;letter-spacing:-0.030px">Capital Weighted Volume</span><span class="lv" style="letter-spacing:-0.525px">1,797,657</span><span class="ls" style="background:#008000"></span></div>
<div class="lr" style="top:148.9px"><span class="ll" style="left:37.0px;letter-spacing:-0.219px">Moving Average (50)</span><span class="lv" style="letter-spacing:-0.532px">16,888,368</span><span class="ls" style="background:#ff0000"></span></div>
<div class="lr" style="top:169.9px"><span class="ll" style="left:24.7px;letter-spacing:-0.030px">Capital Weighted Volume</span><span class="lv" style="letter-spacing:-0.532px">24,731,841</span><span class="ls" style="background:#dc143c"></span></div>
<div class="lr" style="top:190.8px"><span class="ll" style="left:37.0px;letter-spacing:-0.219px">Moving Average (50)</span><span class="lv" style="letter-spacing:-0.532px">15,698,401</span><span class="ls" style="background:#008000"></span></div>
</div>
</body></html>
